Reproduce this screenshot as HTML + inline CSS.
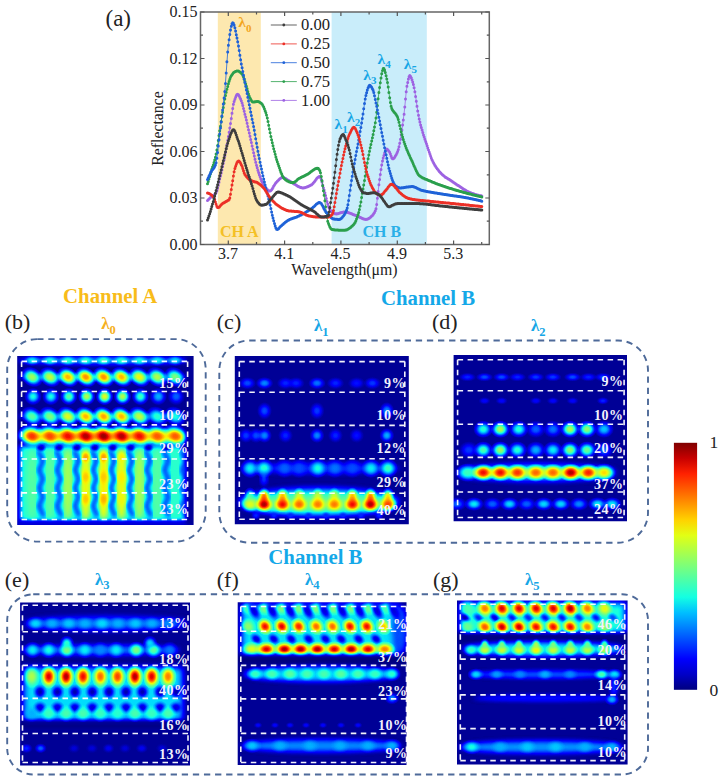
<!DOCTYPE html>
<html><head><meta charset="utf-8"><style>html,body{margin:0;padding:0;background:#fff;}
svg{display:block;}
text{font-family:"Liberation Serif",serif;}
.tk{font-size:16px;fill:#222;}
.ax{font-size:15.8px;fill:#222;}
.cb{font-size:17.5px;fill:#222;}
.laba{font-size:23px;fill:#222;}
.lab{font-size:22px;fill:#222;}
.lg{font-size:16.6px;fill:#222;}
.ch{font-size:16px;font-weight:bold;}
.lm{font-size:15.5px;font-weight:bold;}
.sub{font-size:11px;}
.chn{font-size:20.8px;font-weight:bold;}
.lm2{font-size:17px;font-weight:bold;}
.sub2{font-size:12.5px;}
.pc{font-size:14px;font-weight:bold;fill:#f2f2fc;letter-spacing:0.5px;}
</style></head><body>
<svg width="722" height="781" viewBox="0 0 722 781">
<defs><filter id="jet" filterUnits="userSpaceOnUse" x="0" y="0" width="722" height="781" color-interpolation-filters="sRGB">
<feComponentTransfer><feFuncR type="table" tableValues="0 0 0 0 0 0 0 0 0 0 0 0 0.081 0.181 0.282 0.383 0.484 0.585 0.685 0.786 0.887 0.988 1 1 1 1 1 1 1 0.926 0.784 0.642 0.5"/><feFuncG type="table" tableValues="0 0 0 0 0 0.125 0.25 0.375 0.5 0.625 0.75 0.875 1 1 1 1 1 1 1 1 1 0.94 0.824 0.708 0.593 0.477 0.361 0.245 0.13 0.014 0 0 0"/><feFuncB type="table" tableValues="0.5 0.642 0.784 0.926 1 1 1 1 1 1 1 0.988 0.887 0.786 0.685 0.585 0.484 0.383 0.282 0.181 0.081 0 0 0 0 0 0 0 0 0 0 0 0"/></feComponentTransfer></filter><filter id="bl1" x="-50%" y="-50%" width="200%" height="200%" color-interpolation-filters="sRGB"><feGaussianBlur stdDeviation="1"/></filter><filter id="bl1.5" x="-50%" y="-50%" width="200%" height="200%" color-interpolation-filters="sRGB"><feGaussianBlur stdDeviation="1.5"/></filter><filter id="bl2" x="-50%" y="-50%" width="200%" height="200%" color-interpolation-filters="sRGB"><feGaussianBlur stdDeviation="2"/></filter><filter id="bl2.5" x="-50%" y="-50%" width="200%" height="200%" color-interpolation-filters="sRGB"><feGaussianBlur stdDeviation="2.5"/></filter><filter id="bl3" x="-50%" y="-50%" width="200%" height="200%" color-interpolation-filters="sRGB"><feGaussianBlur stdDeviation="3"/></filter><filter id="bl3.5" x="-50%" y="-50%" width="200%" height="200%" color-interpolation-filters="sRGB"><feGaussianBlur stdDeviation="3.5"/></filter><filter id="bl4" x="-50%" y="-50%" width="200%" height="200%" color-interpolation-filters="sRGB"><feGaussianBlur stdDeviation="4"/></filter><filter id="bl5" x="-50%" y="-50%" width="200%" height="200%" color-interpolation-filters="sRGB"><feGaussianBlur stdDeviation="5"/></filter><radialGradient id="g2"><stop offset="0.00" stop-color="rgb(10,10,10)" stop-opacity="1.000"/><stop offset="0.15" stop-color="rgb(10,10,10)" stop-opacity="0.979"/><stop offset="0.30" stop-color="rgb(10,10,10)" stop-opacity="0.877"/><stop offset="0.45" stop-color="rgb(10,10,10)" stop-opacity="0.686"/><stop offset="0.60" stop-color="rgb(10,10,10)" stop-opacity="0.452"/><stop offset="0.75" stop-color="rgb(10,10,10)" stop-opacity="0.242"/><stop offset="0.90" stop-color="rgb(10,10,10)" stop-opacity="0.102"/><stop offset="1.00" stop-color="rgb(10,10,10)" stop-opacity="0.000"/></radialGradient><radialGradient id="g4"><stop offset="0.00" stop-color="rgb(20,20,20)" stop-opacity="1.000"/><stop offset="0.15" stop-color="rgb(20,20,20)" stop-opacity="0.979"/><stop offset="0.30" stop-color="rgb(20,20,20)" stop-opacity="0.877"/><stop offset="0.45" stop-color="rgb(20,20,20)" stop-opacity="0.686"/><stop offset="0.60" stop-color="rgb(20,20,20)" stop-opacity="0.452"/><stop offset="0.75" stop-color="rgb(20,20,20)" stop-opacity="0.242"/><stop offset="0.90" stop-color="rgb(20,20,20)" stop-opacity="0.102"/><stop offset="1.00" stop-color="rgb(20,20,20)" stop-opacity="0.000"/></radialGradient><radialGradient id="g5"><stop offset="0.00" stop-color="rgb(26,26,26)" stop-opacity="1.000"/><stop offset="0.15" stop-color="rgb(26,26,26)" stop-opacity="0.979"/><stop offset="0.30" stop-color="rgb(26,26,26)" stop-opacity="0.877"/><stop offset="0.45" stop-color="rgb(26,26,26)" stop-opacity="0.686"/><stop offset="0.60" stop-color="rgb(26,26,26)" stop-opacity="0.452"/><stop offset="0.75" stop-color="rgb(26,26,26)" stop-opacity="0.242"/><stop offset="0.90" stop-color="rgb(26,26,26)" stop-opacity="0.102"/><stop offset="1.00" stop-color="rgb(26,26,26)" stop-opacity="0.000"/></radialGradient><radialGradient id="g6"><stop offset="0.00" stop-color="rgb(31,31,31)" stop-opacity="1.000"/><stop offset="0.15" stop-color="rgb(31,31,31)" stop-opacity="0.979"/><stop offset="0.30" stop-color="rgb(31,31,31)" stop-opacity="0.877"/><stop offset="0.45" stop-color="rgb(31,31,31)" stop-opacity="0.686"/><stop offset="0.60" stop-color="rgb(31,31,31)" stop-opacity="0.452"/><stop offset="0.75" stop-color="rgb(31,31,31)" stop-opacity="0.242"/><stop offset="0.90" stop-color="rgb(31,31,31)" stop-opacity="0.102"/><stop offset="1.00" stop-color="rgb(31,31,31)" stop-opacity="0.000"/></radialGradient><radialGradient id="g7"><stop offset="0.00" stop-color="rgb(36,36,36)" stop-opacity="1.000"/><stop offset="0.15" stop-color="rgb(36,36,36)" stop-opacity="0.979"/><stop offset="0.30" stop-color="rgb(36,36,36)" stop-opacity="0.877"/><stop offset="0.45" stop-color="rgb(36,36,36)" stop-opacity="0.686"/><stop offset="0.60" stop-color="rgb(36,36,36)" stop-opacity="0.452"/><stop offset="0.75" stop-color="rgb(36,36,36)" stop-opacity="0.242"/><stop offset="0.90" stop-color="rgb(36,36,36)" stop-opacity="0.102"/><stop offset="1.00" stop-color="rgb(36,36,36)" stop-opacity="0.000"/></radialGradient><radialGradient id="g8"><stop offset="0.00" stop-color="rgb(41,41,41)" stop-opacity="1.000"/><stop offset="0.15" stop-color="rgb(41,41,41)" stop-opacity="0.979"/><stop offset="0.30" stop-color="rgb(41,41,41)" stop-opacity="0.877"/><stop offset="0.45" stop-color="rgb(41,41,41)" stop-opacity="0.686"/><stop offset="0.60" stop-color="rgb(41,41,41)" stop-opacity="0.452"/><stop offset="0.75" stop-color="rgb(41,41,41)" stop-opacity="0.242"/><stop offset="0.90" stop-color="rgb(41,41,41)" stop-opacity="0.102"/><stop offset="1.00" stop-color="rgb(41,41,41)" stop-opacity="0.000"/></radialGradient><radialGradient id="g9"><stop offset="0.00" stop-color="rgb(46,46,46)" stop-opacity="1.000"/><stop offset="0.15" stop-color="rgb(46,46,46)" stop-opacity="0.979"/><stop offset="0.30" stop-color="rgb(46,46,46)" stop-opacity="0.877"/><stop offset="0.45" stop-color="rgb(46,46,46)" stop-opacity="0.686"/><stop offset="0.60" stop-color="rgb(46,46,46)" stop-opacity="0.452"/><stop offset="0.75" stop-color="rgb(46,46,46)" stop-opacity="0.242"/><stop offset="0.90" stop-color="rgb(46,46,46)" stop-opacity="0.102"/><stop offset="1.00" stop-color="rgb(46,46,46)" stop-opacity="0.000"/></radialGradient><radialGradient id="g10"><stop offset="0.00" stop-color="rgb(51,51,51)" stop-opacity="1.000"/><stop offset="0.15" stop-color="rgb(51,51,51)" stop-opacity="0.979"/><stop offset="0.30" stop-color="rgb(51,51,51)" stop-opacity="0.877"/><stop offset="0.45" stop-color="rgb(51,51,51)" stop-opacity="0.686"/><stop offset="0.60" stop-color="rgb(51,51,51)" stop-opacity="0.452"/><stop offset="0.75" stop-color="rgb(51,51,51)" stop-opacity="0.242"/><stop offset="0.90" stop-color="rgb(51,51,51)" stop-opacity="0.102"/><stop offset="1.00" stop-color="rgb(51,51,51)" stop-opacity="0.000"/></radialGradient><radialGradient id="g11"><stop offset="0.00" stop-color="rgb(56,56,56)" stop-opacity="1.000"/><stop offset="0.15" stop-color="rgb(56,56,56)" stop-opacity="0.979"/><stop offset="0.30" stop-color="rgb(56,56,56)" stop-opacity="0.877"/><stop offset="0.45" stop-color="rgb(56,56,56)" stop-opacity="0.686"/><stop offset="0.60" stop-color="rgb(56,56,56)" stop-opacity="0.452"/><stop offset="0.75" stop-color="rgb(56,56,56)" stop-opacity="0.242"/><stop offset="0.90" stop-color="rgb(56,56,56)" stop-opacity="0.102"/><stop offset="1.00" stop-color="rgb(56,56,56)" stop-opacity="0.000"/></radialGradient><radialGradient id="g12"><stop offset="0.00" stop-color="rgb(61,61,61)" stop-opacity="1.000"/><stop offset="0.15" stop-color="rgb(61,61,61)" stop-opacity="0.979"/><stop offset="0.30" stop-color="rgb(61,61,61)" stop-opacity="0.877"/><stop offset="0.45" stop-color="rgb(61,61,61)" stop-opacity="0.686"/><stop offset="0.60" stop-color="rgb(61,61,61)" stop-opacity="0.452"/><stop offset="0.75" stop-color="rgb(61,61,61)" stop-opacity="0.242"/><stop offset="0.90" stop-color="rgb(61,61,61)" stop-opacity="0.102"/><stop offset="1.00" stop-color="rgb(61,61,61)" stop-opacity="0.000"/></radialGradient><radialGradient id="g13"><stop offset="0.00" stop-color="rgb(66,66,66)" stop-opacity="1.000"/><stop offset="0.15" stop-color="rgb(66,66,66)" stop-opacity="0.979"/><stop offset="0.30" stop-color="rgb(66,66,66)" stop-opacity="0.877"/><stop offset="0.45" stop-color="rgb(66,66,66)" stop-opacity="0.686"/><stop offset="0.60" stop-color="rgb(66,66,66)" stop-opacity="0.452"/><stop offset="0.75" stop-color="rgb(66,66,66)" stop-opacity="0.242"/><stop offset="0.90" stop-color="rgb(66,66,66)" stop-opacity="0.102"/><stop offset="1.00" stop-color="rgb(66,66,66)" stop-opacity="0.000"/></radialGradient><radialGradient id="g14"><stop offset="0.00" stop-color="rgb(71,71,71)" stop-opacity="1.000"/><stop offset="0.15" stop-color="rgb(71,71,71)" stop-opacity="0.979"/><stop offset="0.30" stop-color="rgb(71,71,71)" stop-opacity="0.877"/><stop offset="0.45" stop-color="rgb(71,71,71)" stop-opacity="0.686"/><stop offset="0.60" stop-color="rgb(71,71,71)" stop-opacity="0.452"/><stop offset="0.75" stop-color="rgb(71,71,71)" stop-opacity="0.242"/><stop offset="0.90" stop-color="rgb(71,71,71)" stop-opacity="0.102"/><stop offset="1.00" stop-color="rgb(71,71,71)" stop-opacity="0.000"/></radialGradient><radialGradient id="g15"><stop offset="0.00" stop-color="rgb(76,76,76)" stop-opacity="1.000"/><stop offset="0.15" stop-color="rgb(76,76,76)" stop-opacity="0.979"/><stop offset="0.30" stop-color="rgb(76,76,76)" stop-opacity="0.877"/><stop offset="0.45" stop-color="rgb(76,76,76)" stop-opacity="0.686"/><stop offset="0.60" stop-color="rgb(76,76,76)" stop-opacity="0.452"/><stop offset="0.75" stop-color="rgb(76,76,76)" stop-opacity="0.242"/><stop offset="0.90" stop-color="rgb(76,76,76)" stop-opacity="0.102"/><stop offset="1.00" stop-color="rgb(76,76,76)" stop-opacity="0.000"/></radialGradient><radialGradient id="g16"><stop offset="0.00" stop-color="rgb(82,82,82)" stop-opacity="1.000"/><stop offset="0.15" stop-color="rgb(82,82,82)" stop-opacity="0.979"/><stop offset="0.30" stop-color="rgb(82,82,82)" stop-opacity="0.877"/><stop offset="0.45" stop-color="rgb(82,82,82)" stop-opacity="0.686"/><stop offset="0.60" stop-color="rgb(82,82,82)" stop-opacity="0.452"/><stop offset="0.75" stop-color="rgb(82,82,82)" stop-opacity="0.242"/><stop offset="0.90" stop-color="rgb(82,82,82)" stop-opacity="0.102"/><stop offset="1.00" stop-color="rgb(82,82,82)" stop-opacity="0.000"/></radialGradient><radialGradient id="g17"><stop offset="0.00" stop-color="rgb(87,87,87)" stop-opacity="1.000"/><stop offset="0.15" stop-color="rgb(87,87,87)" stop-opacity="0.979"/><stop offset="0.30" stop-color="rgb(87,87,87)" stop-opacity="0.877"/><stop offset="0.45" stop-color="rgb(87,87,87)" stop-opacity="0.686"/><stop offset="0.60" stop-color="rgb(87,87,87)" stop-opacity="0.452"/><stop offset="0.75" stop-color="rgb(87,87,87)" stop-opacity="0.242"/><stop offset="0.90" stop-color="rgb(87,87,87)" stop-opacity="0.102"/><stop offset="1.00" stop-color="rgb(87,87,87)" stop-opacity="0.000"/></radialGradient><radialGradient id="g18"><stop offset="0.00" stop-color="rgb(92,92,92)" stop-opacity="1.000"/><stop offset="0.15" stop-color="rgb(92,92,92)" stop-opacity="0.979"/><stop offset="0.30" stop-color="rgb(92,92,92)" stop-opacity="0.877"/><stop offset="0.45" stop-color="rgb(92,92,92)" stop-opacity="0.686"/><stop offset="0.60" stop-color="rgb(92,92,92)" stop-opacity="0.452"/><stop offset="0.75" stop-color="rgb(92,92,92)" stop-opacity="0.242"/><stop offset="0.90" stop-color="rgb(92,92,92)" stop-opacity="0.102"/><stop offset="1.00" stop-color="rgb(92,92,92)" stop-opacity="0.000"/></radialGradient><radialGradient id="g19"><stop offset="0.00" stop-color="rgb(97,97,97)" stop-opacity="1.000"/><stop offset="0.15" stop-color="rgb(97,97,97)" stop-opacity="0.979"/><stop offset="0.30" stop-color="rgb(97,97,97)" stop-opacity="0.877"/><stop offset="0.45" stop-color="rgb(97,97,97)" stop-opacity="0.686"/><stop offset="0.60" stop-color="rgb(97,97,97)" stop-opacity="0.452"/><stop offset="0.75" stop-color="rgb(97,97,97)" stop-opacity="0.242"/><stop offset="0.90" stop-color="rgb(97,97,97)" stop-opacity="0.102"/><stop offset="1.00" stop-color="rgb(97,97,97)" stop-opacity="0.000"/></radialGradient><radialGradient id="g20"><stop offset="0.00" stop-color="rgb(102,102,102)" stop-opacity="1.000"/><stop offset="0.15" stop-color="rgb(102,102,102)" stop-opacity="0.979"/><stop offset="0.30" stop-color="rgb(102,102,102)" stop-opacity="0.877"/><stop offset="0.45" stop-color="rgb(102,102,102)" stop-opacity="0.686"/><stop offset="0.60" stop-color="rgb(102,102,102)" stop-opacity="0.452"/><stop offset="0.75" stop-color="rgb(102,102,102)" stop-opacity="0.242"/><stop offset="0.90" stop-color="rgb(102,102,102)" stop-opacity="0.102"/><stop offset="1.00" stop-color="rgb(102,102,102)" stop-opacity="0.000"/></radialGradient><radialGradient id="g21"><stop offset="0.00" stop-color="rgb(107,107,107)" stop-opacity="1.000"/><stop offset="0.15" stop-color="rgb(107,107,107)" stop-opacity="0.979"/><stop offset="0.30" stop-color="rgb(107,107,107)" stop-opacity="0.877"/><stop offset="0.45" stop-color="rgb(107,107,107)" stop-opacity="0.686"/><stop offset="0.60" stop-color="rgb(107,107,107)" stop-opacity="0.452"/><stop offset="0.75" stop-color="rgb(107,107,107)" stop-opacity="0.242"/><stop offset="0.90" stop-color="rgb(107,107,107)" stop-opacity="0.102"/><stop offset="1.00" stop-color="rgb(107,107,107)" stop-opacity="0.000"/></radialGradient><radialGradient id="g22"><stop offset="0.00" stop-color="rgb(112,112,112)" stop-opacity="1.000"/><stop offset="0.15" stop-color="rgb(112,112,112)" stop-opacity="0.979"/><stop offset="0.30" stop-color="rgb(112,112,112)" stop-opacity="0.877"/><stop offset="0.45" stop-color="rgb(112,112,112)" stop-opacity="0.686"/><stop offset="0.60" stop-color="rgb(112,112,112)" stop-opacity="0.452"/><stop offset="0.75" stop-color="rgb(112,112,112)" stop-opacity="0.242"/><stop offset="0.90" stop-color="rgb(112,112,112)" stop-opacity="0.102"/><stop offset="1.00" stop-color="rgb(112,112,112)" stop-opacity="0.000"/></radialGradient><radialGradient id="g23"><stop offset="0.00" stop-color="rgb(117,117,117)" stop-opacity="1.000"/><stop offset="0.15" stop-color="rgb(117,117,117)" stop-opacity="0.979"/><stop offset="0.30" stop-color="rgb(117,117,117)" stop-opacity="0.877"/><stop offset="0.45" stop-color="rgb(117,117,117)" stop-opacity="0.686"/><stop offset="0.60" stop-color="rgb(117,117,117)" stop-opacity="0.452"/><stop offset="0.75" stop-color="rgb(117,117,117)" stop-opacity="0.242"/><stop offset="0.90" stop-color="rgb(117,117,117)" stop-opacity="0.102"/><stop offset="1.00" stop-color="rgb(117,117,117)" stop-opacity="0.000"/></radialGradient><radialGradient id="g24"><stop offset="0.00" stop-color="rgb(122,122,122)" stop-opacity="1.000"/><stop offset="0.15" stop-color="rgb(122,122,122)" stop-opacity="0.979"/><stop offset="0.30" stop-color="rgb(122,122,122)" stop-opacity="0.877"/><stop offset="0.45" stop-color="rgb(122,122,122)" stop-opacity="0.686"/><stop offset="0.60" stop-color="rgb(122,122,122)" stop-opacity="0.452"/><stop offset="0.75" stop-color="rgb(122,122,122)" stop-opacity="0.242"/><stop offset="0.90" stop-color="rgb(122,122,122)" stop-opacity="0.102"/><stop offset="1.00" stop-color="rgb(122,122,122)" stop-opacity="0.000"/></radialGradient><radialGradient id="g25"><stop offset="0.00" stop-color="rgb(128,128,128)" stop-opacity="1.000"/><stop offset="0.15" stop-color="rgb(128,128,128)" stop-opacity="0.979"/><stop offset="0.30" stop-color="rgb(128,128,128)" stop-opacity="0.877"/><stop offset="0.45" stop-color="rgb(128,128,128)" stop-opacity="0.686"/><stop offset="0.60" stop-color="rgb(128,128,128)" stop-opacity="0.452"/><stop offset="0.75" stop-color="rgb(128,128,128)" stop-opacity="0.242"/><stop offset="0.90" stop-color="rgb(128,128,128)" stop-opacity="0.102"/><stop offset="1.00" stop-color="rgb(128,128,128)" stop-opacity="0.000"/></radialGradient><radialGradient id="g26"><stop offset="0.00" stop-color="rgb(133,133,133)" stop-opacity="1.000"/><stop offset="0.15" stop-color="rgb(133,133,133)" stop-opacity="0.979"/><stop offset="0.30" stop-color="rgb(133,133,133)" stop-opacity="0.877"/><stop offset="0.45" stop-color="rgb(133,133,133)" stop-opacity="0.686"/><stop offset="0.60" stop-color="rgb(133,133,133)" stop-opacity="0.452"/><stop offset="0.75" stop-color="rgb(133,133,133)" stop-opacity="0.242"/><stop offset="0.90" stop-color="rgb(133,133,133)" stop-opacity="0.102"/><stop offset="1.00" stop-color="rgb(133,133,133)" stop-opacity="0.000"/></radialGradient><radialGradient id="g27"><stop offset="0.00" stop-color="rgb(138,138,138)" stop-opacity="1.000"/><stop offset="0.15" stop-color="rgb(138,138,138)" stop-opacity="0.979"/><stop offset="0.30" stop-color="rgb(138,138,138)" stop-opacity="0.877"/><stop offset="0.45" stop-color="rgb(138,138,138)" stop-opacity="0.686"/><stop offset="0.60" stop-color="rgb(138,138,138)" stop-opacity="0.452"/><stop offset="0.75" stop-color="rgb(138,138,138)" stop-opacity="0.242"/><stop offset="0.90" stop-color="rgb(138,138,138)" stop-opacity="0.102"/><stop offset="1.00" stop-color="rgb(138,138,138)" stop-opacity="0.000"/></radialGradient><radialGradient id="g28"><stop offset="0.00" stop-color="rgb(143,143,143)" stop-opacity="1.000"/><stop offset="0.15" stop-color="rgb(143,143,143)" stop-opacity="0.979"/><stop offset="0.30" stop-color="rgb(143,143,143)" stop-opacity="0.877"/><stop offset="0.45" stop-color="rgb(143,143,143)" stop-opacity="0.686"/><stop offset="0.60" stop-color="rgb(143,143,143)" stop-opacity="0.452"/><stop offset="0.75" stop-color="rgb(143,143,143)" stop-opacity="0.242"/><stop offset="0.90" stop-color="rgb(143,143,143)" stop-opacity="0.102"/><stop offset="1.00" stop-color="rgb(143,143,143)" stop-opacity="0.000"/></radialGradient><radialGradient id="g29"><stop offset="0.00" stop-color="rgb(148,148,148)" stop-opacity="1.000"/><stop offset="0.15" stop-color="rgb(148,148,148)" stop-opacity="0.979"/><stop offset="0.30" stop-color="rgb(148,148,148)" stop-opacity="0.877"/><stop offset="0.45" stop-color="rgb(148,148,148)" stop-opacity="0.686"/><stop offset="0.60" stop-color="rgb(148,148,148)" stop-opacity="0.452"/><stop offset="0.75" stop-color="rgb(148,148,148)" stop-opacity="0.242"/><stop offset="0.90" stop-color="rgb(148,148,148)" stop-opacity="0.102"/><stop offset="1.00" stop-color="rgb(148,148,148)" stop-opacity="0.000"/></radialGradient><radialGradient id="g30"><stop offset="0.00" stop-color="rgb(153,153,153)" stop-opacity="1.000"/><stop offset="0.15" stop-color="rgb(153,153,153)" stop-opacity="0.979"/><stop offset="0.30" stop-color="rgb(153,153,153)" stop-opacity="0.877"/><stop offset="0.45" stop-color="rgb(153,153,153)" stop-opacity="0.686"/><stop offset="0.60" stop-color="rgb(153,153,153)" stop-opacity="0.452"/><stop offset="0.75" stop-color="rgb(153,153,153)" stop-opacity="0.242"/><stop offset="0.90" stop-color="rgb(153,153,153)" stop-opacity="0.102"/><stop offset="1.00" stop-color="rgb(153,153,153)" stop-opacity="0.000"/></radialGradient><radialGradient id="g31"><stop offset="0.00" stop-color="rgb(158,158,158)" stop-opacity="1.000"/><stop offset="0.15" stop-color="rgb(158,158,158)" stop-opacity="0.979"/><stop offset="0.30" stop-color="rgb(158,158,158)" stop-opacity="0.877"/><stop offset="0.45" stop-color="rgb(158,158,158)" stop-opacity="0.686"/><stop offset="0.60" stop-color="rgb(158,158,158)" stop-opacity="0.452"/><stop offset="0.75" stop-color="rgb(158,158,158)" stop-opacity="0.242"/><stop offset="0.90" stop-color="rgb(158,158,158)" stop-opacity="0.102"/><stop offset="1.00" stop-color="rgb(158,158,158)" stop-opacity="0.000"/></radialGradient><radialGradient id="g32"><stop offset="0.00" stop-color="rgb(163,163,163)" stop-opacity="1.000"/><stop offset="0.15" stop-color="rgb(163,163,163)" stop-opacity="0.979"/><stop offset="0.30" stop-color="rgb(163,163,163)" stop-opacity="0.877"/><stop offset="0.45" stop-color="rgb(163,163,163)" stop-opacity="0.686"/><stop offset="0.60" stop-color="rgb(163,163,163)" stop-opacity="0.452"/><stop offset="0.75" stop-color="rgb(163,163,163)" stop-opacity="0.242"/><stop offset="0.90" stop-color="rgb(163,163,163)" stop-opacity="0.102"/><stop offset="1.00" stop-color="rgb(163,163,163)" stop-opacity="0.000"/></radialGradient><radialGradient id="g33"><stop offset="0.00" stop-color="rgb(168,168,168)" stop-opacity="1.000"/><stop offset="0.15" stop-color="rgb(168,168,168)" stop-opacity="0.979"/><stop offset="0.30" stop-color="rgb(168,168,168)" stop-opacity="0.877"/><stop offset="0.45" stop-color="rgb(168,168,168)" stop-opacity="0.686"/><stop offset="0.60" stop-color="rgb(168,168,168)" stop-opacity="0.452"/><stop offset="0.75" stop-color="rgb(168,168,168)" stop-opacity="0.242"/><stop offset="0.90" stop-color="rgb(168,168,168)" stop-opacity="0.102"/><stop offset="1.00" stop-color="rgb(168,168,168)" stop-opacity="0.000"/></radialGradient><radialGradient id="g34"><stop offset="0.00" stop-color="rgb(173,173,173)" stop-opacity="1.000"/><stop offset="0.15" stop-color="rgb(173,173,173)" stop-opacity="0.979"/><stop offset="0.30" stop-color="rgb(173,173,173)" stop-opacity="0.877"/><stop offset="0.45" stop-color="rgb(173,173,173)" stop-opacity="0.686"/><stop offset="0.60" stop-color="rgb(173,173,173)" stop-opacity="0.452"/><stop offset="0.75" stop-color="rgb(173,173,173)" stop-opacity="0.242"/><stop offset="0.90" stop-color="rgb(173,173,173)" stop-opacity="0.102"/><stop offset="1.00" stop-color="rgb(173,173,173)" stop-opacity="0.000"/></radialGradient><radialGradient id="g35"><stop offset="0.00" stop-color="rgb(178,178,178)" stop-opacity="1.000"/><stop offset="0.15" stop-color="rgb(178,178,178)" stop-opacity="0.979"/><stop offset="0.30" stop-color="rgb(178,178,178)" stop-opacity="0.877"/><stop offset="0.45" stop-color="rgb(178,178,178)" stop-opacity="0.686"/><stop offset="0.60" stop-color="rgb(178,178,178)" stop-opacity="0.452"/><stop offset="0.75" stop-color="rgb(178,178,178)" stop-opacity="0.242"/><stop offset="0.90" stop-color="rgb(178,178,178)" stop-opacity="0.102"/><stop offset="1.00" stop-color="rgb(178,178,178)" stop-opacity="0.000"/></radialGradient><radialGradient id="g36"><stop offset="0.00" stop-color="rgb(184,184,184)" stop-opacity="1.000"/><stop offset="0.15" stop-color="rgb(184,184,184)" stop-opacity="0.979"/><stop offset="0.30" stop-color="rgb(184,184,184)" stop-opacity="0.877"/><stop offset="0.45" stop-color="rgb(184,184,184)" stop-opacity="0.686"/><stop offset="0.60" stop-color="rgb(184,184,184)" stop-opacity="0.452"/><stop offset="0.75" stop-color="rgb(184,184,184)" stop-opacity="0.242"/><stop offset="0.90" stop-color="rgb(184,184,184)" stop-opacity="0.102"/><stop offset="1.00" stop-color="rgb(184,184,184)" stop-opacity="0.000"/></radialGradient><radialGradient id="g37"><stop offset="0.00" stop-color="rgb(189,189,189)" stop-opacity="1.000"/><stop offset="0.15" stop-color="rgb(189,189,189)" stop-opacity="0.979"/><stop offset="0.30" stop-color="rgb(189,189,189)" stop-opacity="0.877"/><stop offset="0.45" stop-color="rgb(189,189,189)" stop-opacity="0.686"/><stop offset="0.60" stop-color="rgb(189,189,189)" stop-opacity="0.452"/><stop offset="0.75" stop-color="rgb(189,189,189)" stop-opacity="0.242"/><stop offset="0.90" stop-color="rgb(189,189,189)" stop-opacity="0.102"/><stop offset="1.00" stop-color="rgb(189,189,189)" stop-opacity="0.000"/></radialGradient><radialGradient id="g38"><stop offset="0.00" stop-color="rgb(194,194,194)" stop-opacity="1.000"/><stop offset="0.15" stop-color="rgb(194,194,194)" stop-opacity="0.979"/><stop offset="0.30" stop-color="rgb(194,194,194)" stop-opacity="0.877"/><stop offset="0.45" stop-color="rgb(194,194,194)" stop-opacity="0.686"/><stop offset="0.60" stop-color="rgb(194,194,194)" stop-opacity="0.452"/><stop offset="0.75" stop-color="rgb(194,194,194)" stop-opacity="0.242"/><stop offset="0.90" stop-color="rgb(194,194,194)" stop-opacity="0.102"/><stop offset="1.00" stop-color="rgb(194,194,194)" stop-opacity="0.000"/></radialGradient><radialGradient id="g39"><stop offset="0.00" stop-color="rgb(199,199,199)" stop-opacity="1.000"/><stop offset="0.15" stop-color="rgb(199,199,199)" stop-opacity="0.979"/><stop offset="0.30" stop-color="rgb(199,199,199)" stop-opacity="0.877"/><stop offset="0.45" stop-color="rgb(199,199,199)" stop-opacity="0.686"/><stop offset="0.60" stop-color="rgb(199,199,199)" stop-opacity="0.452"/><stop offset="0.75" stop-color="rgb(199,199,199)" stop-opacity="0.242"/><stop offset="0.90" stop-color="rgb(199,199,199)" stop-opacity="0.102"/><stop offset="1.00" stop-color="rgb(199,199,199)" stop-opacity="0.000"/></radialGradient><radialGradient id="g40"><stop offset="0.00" stop-color="rgb(204,204,204)" stop-opacity="1.000"/><stop offset="0.15" stop-color="rgb(204,204,204)" stop-opacity="0.979"/><stop offset="0.30" stop-color="rgb(204,204,204)" stop-opacity="0.877"/><stop offset="0.45" stop-color="rgb(204,204,204)" stop-opacity="0.686"/><stop offset="0.60" stop-color="rgb(204,204,204)" stop-opacity="0.452"/><stop offset="0.75" stop-color="rgb(204,204,204)" stop-opacity="0.242"/><stop offset="0.90" stop-color="rgb(204,204,204)" stop-opacity="0.102"/><stop offset="1.00" stop-color="rgb(204,204,204)" stop-opacity="0.000"/></radialGradient><radialGradient id="g41"><stop offset="0.00" stop-color="rgb(209,209,209)" stop-opacity="1.000"/><stop offset="0.15" stop-color="rgb(209,209,209)" stop-opacity="0.979"/><stop offset="0.30" stop-color="rgb(209,209,209)" stop-opacity="0.877"/><stop offset="0.45" stop-color="rgb(209,209,209)" stop-opacity="0.686"/><stop offset="0.60" stop-color="rgb(209,209,209)" stop-opacity="0.452"/><stop offset="0.75" stop-color="rgb(209,209,209)" stop-opacity="0.242"/><stop offset="0.90" stop-color="rgb(209,209,209)" stop-opacity="0.102"/><stop offset="1.00" stop-color="rgb(209,209,209)" stop-opacity="0.000"/></radialGradient><radialGradient id="g42"><stop offset="0.00" stop-color="rgb(214,214,214)" stop-opacity="1.000"/><stop offset="0.15" stop-color="rgb(214,214,214)" stop-opacity="0.979"/><stop offset="0.30" stop-color="rgb(214,214,214)" stop-opacity="0.877"/><stop offset="0.45" stop-color="rgb(214,214,214)" stop-opacity="0.686"/><stop offset="0.60" stop-color="rgb(214,214,214)" stop-opacity="0.452"/><stop offset="0.75" stop-color="rgb(214,214,214)" stop-opacity="0.242"/><stop offset="0.90" stop-color="rgb(214,214,214)" stop-opacity="0.102"/><stop offset="1.00" stop-color="rgb(214,214,214)" stop-opacity="0.000"/></radialGradient><radialGradient id="g43"><stop offset="0.00" stop-color="rgb(219,219,219)" stop-opacity="1.000"/><stop offset="0.15" stop-color="rgb(219,219,219)" stop-opacity="0.979"/><stop offset="0.30" stop-color="rgb(219,219,219)" stop-opacity="0.877"/><stop offset="0.45" stop-color="rgb(219,219,219)" stop-opacity="0.686"/><stop offset="0.60" stop-color="rgb(219,219,219)" stop-opacity="0.452"/><stop offset="0.75" stop-color="rgb(219,219,219)" stop-opacity="0.242"/><stop offset="0.90" stop-color="rgb(219,219,219)" stop-opacity="0.102"/><stop offset="1.00" stop-color="rgb(219,219,219)" stop-opacity="0.000"/></radialGradient><radialGradient id="g44"><stop offset="0.00" stop-color="rgb(224,224,224)" stop-opacity="1.000"/><stop offset="0.15" stop-color="rgb(224,224,224)" stop-opacity="0.979"/><stop offset="0.30" stop-color="rgb(224,224,224)" stop-opacity="0.877"/><stop offset="0.45" stop-color="rgb(224,224,224)" stop-opacity="0.686"/><stop offset="0.60" stop-color="rgb(224,224,224)" stop-opacity="0.452"/><stop offset="0.75" stop-color="rgb(224,224,224)" stop-opacity="0.242"/><stop offset="0.90" stop-color="rgb(224,224,224)" stop-opacity="0.102"/><stop offset="1.00" stop-color="rgb(224,224,224)" stop-opacity="0.000"/></radialGradient><radialGradient id="g45"><stop offset="0.00" stop-color="rgb(230,230,230)" stop-opacity="1.000"/><stop offset="0.15" stop-color="rgb(230,230,230)" stop-opacity="0.979"/><stop offset="0.30" stop-color="rgb(230,230,230)" stop-opacity="0.877"/><stop offset="0.45" stop-color="rgb(230,230,230)" stop-opacity="0.686"/><stop offset="0.60" stop-color="rgb(230,230,230)" stop-opacity="0.452"/><stop offset="0.75" stop-color="rgb(230,230,230)" stop-opacity="0.242"/><stop offset="0.90" stop-color="rgb(230,230,230)" stop-opacity="0.102"/><stop offset="1.00" stop-color="rgb(230,230,230)" stop-opacity="0.000"/></radialGradient><radialGradient id="g46"><stop offset="0.00" stop-color="rgb(235,235,235)" stop-opacity="1.000"/><stop offset="0.15" stop-color="rgb(235,235,235)" stop-opacity="0.979"/><stop offset="0.30" stop-color="rgb(235,235,235)" stop-opacity="0.877"/><stop offset="0.45" stop-color="rgb(235,235,235)" stop-opacity="0.686"/><stop offset="0.60" stop-color="rgb(235,235,235)" stop-opacity="0.452"/><stop offset="0.75" stop-color="rgb(235,235,235)" stop-opacity="0.242"/><stop offset="0.90" stop-color="rgb(235,235,235)" stop-opacity="0.102"/><stop offset="1.00" stop-color="rgb(235,235,235)" stop-opacity="0.000"/></radialGradient><radialGradient id="g47"><stop offset="0.00" stop-color="rgb(240,240,240)" stop-opacity="1.000"/><stop offset="0.15" stop-color="rgb(240,240,240)" stop-opacity="0.979"/><stop offset="0.30" stop-color="rgb(240,240,240)" stop-opacity="0.877"/><stop offset="0.45" stop-color="rgb(240,240,240)" stop-opacity="0.686"/><stop offset="0.60" stop-color="rgb(240,240,240)" stop-opacity="0.452"/><stop offset="0.75" stop-color="rgb(240,240,240)" stop-opacity="0.242"/><stop offset="0.90" stop-color="rgb(240,240,240)" stop-opacity="0.102"/><stop offset="1.00" stop-color="rgb(240,240,240)" stop-opacity="0.000"/></radialGradient><radialGradient id="g48"><stop offset="0.00" stop-color="rgb(245,245,245)" stop-opacity="1.000"/><stop offset="0.15" stop-color="rgb(245,245,245)" stop-opacity="0.979"/><stop offset="0.30" stop-color="rgb(245,245,245)" stop-opacity="0.877"/><stop offset="0.45" stop-color="rgb(245,245,245)" stop-opacity="0.686"/><stop offset="0.60" stop-color="rgb(245,245,245)" stop-opacity="0.452"/><stop offset="0.75" stop-color="rgb(245,245,245)" stop-opacity="0.242"/><stop offset="0.90" stop-color="rgb(245,245,245)" stop-opacity="0.102"/><stop offset="1.00" stop-color="rgb(245,245,245)" stop-opacity="0.000"/></radialGradient><radialGradient id="g49"><stop offset="0.00" stop-color="rgb(250,250,250)" stop-opacity="1.000"/><stop offset="0.15" stop-color="rgb(250,250,250)" stop-opacity="0.979"/><stop offset="0.30" stop-color="rgb(250,250,250)" stop-opacity="0.877"/><stop offset="0.45" stop-color="rgb(250,250,250)" stop-opacity="0.686"/><stop offset="0.60" stop-color="rgb(250,250,250)" stop-opacity="0.452"/><stop offset="0.75" stop-color="rgb(250,250,250)" stop-opacity="0.242"/><stop offset="0.90" stop-color="rgb(250,250,250)" stop-opacity="0.102"/><stop offset="1.00" stop-color="rgb(250,250,250)" stop-opacity="0.000"/></radialGradient></defs>
<rect width="722" height="781" fill="#fff"/>
<rect x="217.8" y="12" width="43" height="232.5" fill="#fde8af"/>
<rect x="331.6" y="12" width="95.2" height="232.5" fill="#c9edfa"/>
<path d="M207.5 200.4 L208.9 198.9 L210.4 197.6 L211.8 196.4 L213.3 195.4 L214.7 194.3 L216.1 192.5 L217.6 188.2 L219.0 182.2 L220.5 176.1 L221.9 169.9 L223.3 163.2 L224.8 156.1 L226.2 148.6 L227.7 140.6 L229.1 132.3 L230.5 123.6 L232.0 113.3 L233.4 104.3 L234.9 99.3 L236.3 95.6 L237.7 94.3 L239.2 96.0 L240.6 99.1 L242.1 103.0 L243.5 108.4 L244.9 114.2 L246.4 120.1 L247.8 126.4 L249.3 133.0 L250.7 139.4 L252.1 145.9 L253.6 152.7 L255.0 159.3 L256.5 165.2 L257.9 170.2 L259.3 174.7 L260.8 178.8 L262.2 182.3 L263.7 184.9 L265.1 187.0 L266.5 188.8 L268.0 190.3 L269.4 191.0 L270.9 190.5 L272.3 188.7 L273.7 186.1 L275.2 183.7 L276.6 182.0 L278.1 180.4 L279.5 179.0 L280.9 177.9 L282.4 177.5 L283.8 177.8 L285.3 178.4 L286.7 179.2 L288.1 180.2 L289.6 181.1 L291.0 181.9 L292.5 182.8 L293.9 183.7 L295.3 184.6 L296.8 185.6 L298.2 186.4 L299.7 187.1 L301.1 187.6 L302.5 187.9 L304.0 187.8 L305.4 187.5 L306.9 187.1 L308.3 186.4 L309.7 185.7 L311.2 184.9 L312.6 183.8 L314.1 182.1 L315.5 180.2 L316.9 178.3 L318.4 177.0 L319.8 176.5 L321.3 179.4 L322.7 184.9 L324.1 190.1 L325.6 195.6 L327.0 201.4 L328.5 206.4 L329.9 209.6 L331.3 211.1 L332.8 212.4 L334.2 213.3 L335.7 213.8 L337.1 213.8 L338.5 213.5 L340.0 213.1 L341.4 212.6 L342.9 212.2 L344.3 212.1 L345.7 212.2 L347.2 212.5 L348.6 212.8 L350.1 213.3 L351.5 213.8 L352.9 214.4 L354.4 215.0 L355.8 215.5 L357.3 216.0 L358.7 216.7 L360.1 217.4 L361.6 218.1 L363.0 218.8 L364.5 219.2 L365.9 219.4 L367.3 219.2 L368.8 218.4 L370.2 217.4 L371.7 216.1 L373.1 214.6 L374.5 212.4 L376.0 208.7 L377.4 198.3 L378.9 184.8 L380.3 174.4 L381.7 164.9 L383.2 158.1 L384.6 153.0 L386.1 149.5 L387.5 149.4 L388.9 151.2 L390.4 153.9 L391.8 157.8 L393.3 158.7 L394.7 157.3 L396.1 154.7 L397.6 151.5 L399.0 146.7 L400.5 139.2 L401.9 130.0 L403.3 119.9 L404.8 106.9 L406.2 91.8 L407.7 82.4 L409.1 76.4 L410.5 76.3 L412.0 79.8 L413.4 84.5 L414.9 91.8 L416.3 101.2 L417.7 110.9 L419.2 119.0 L420.6 124.9 L422.1 130.1 L423.5 134.9 L424.9 139.3 L426.4 143.5 L427.8 147.9 L429.3 152.2 L430.7 156.3 L432.1 160.0 L433.6 163.0 L435.0 165.5 L436.5 167.7 L437.9 169.6 L439.3 171.4 L440.8 173.0 L442.2 174.5 L443.7 175.8 L445.1 176.9 L446.5 177.8 L448.0 178.7 L449.4 179.6 L450.9 180.6 L452.3 181.6 L453.7 182.5 L455.2 183.5 L456.6 184.4 L458.1 185.4 L459.5 186.3 L460.9 187.3 L462.4 188.2 L463.8 189.2 L465.3 190.1 L466.7 191.0 L468.1 191.7 L469.6 192.4 L471.0 193.0 L472.5 193.5 L473.9 194.0 L475.3 194.4 L476.8 194.9 L478.2 195.2 L479.7 195.5 L481.1 195.8" fill="none" stroke="#9d62e2" stroke-width="0.8"/>
<path d="M207.5 200.4h0M208.2 199.7h0M208.9 198.9h0M209.7 198.2h0M210.4 197.6h0M211.1 196.9h0M211.8 196.4h0M212.5 195.9h0M213.3 195.4h0M214.0 194.9h0M214.7 194.3h0M215.4 193.6h0M216.1 192.5h0M216.9 190.7h0M217.6 188.2h0M218.3 185.3h0M219.0 182.2h0M219.7 179.1h0M220.5 176.1h0M221.2 173.1h0M221.9 169.9h0M222.6 166.6h0M223.3 163.2h0M224.1 159.7h0M224.8 156.1h0M225.5 152.4h0M226.2 148.6h0M226.9 144.7h0M227.7 140.6h0M228.4 136.5h0M229.1 132.3h0M229.8 128.1h0M230.5 123.6h0M231.3 118.5h0M232.0 113.3h0M232.7 108.4h0M233.4 104.3h0M234.1 101.6h0M234.9 99.3h0M235.6 97.3h0M236.3 95.6h0M237.0 94.6h0M237.7 94.3h0M238.5 94.8h0M239.2 96.0h0M239.9 97.5h0M240.6 99.1h0M241.3 100.8h0M242.1 103.0h0M242.8 105.5h0M243.5 108.4h0M244.2 111.3h0M244.9 114.2h0M245.7 117.1h0M246.4 120.1h0M247.1 123.2h0M247.8 126.4h0M248.5 129.7h0M249.3 133.0h0M250.0 136.2h0M250.7 139.4h0M251.4 142.6h0M252.1 145.9h0M252.9 149.3h0M253.6 152.7h0M254.3 156.0h0M255.0 159.3h0M255.7 162.3h0M256.5 165.2h0M257.2 167.8h0M257.9 170.2h0M258.6 172.5h0M259.3 174.7h0M260.1 176.8h0M260.8 178.8h0M261.5 180.7h0M262.2 182.3h0M262.9 183.7h0M263.7 184.9h0M264.4 185.9h0M265.1 187.0h0M265.8 187.9h0M266.5 188.8h0M267.3 189.6h0M268.0 190.3h0M268.7 190.7h0M269.4 191.0h0M270.1 190.9h0M270.9 190.5h0M271.6 189.7h0M272.3 188.7h0M273.0 187.4h0M273.7 186.1h0M274.5 184.9h0M275.2 183.7h0M275.9 182.8h0M276.6 182.0h0M277.3 181.2h0M278.1 180.4h0M278.8 179.7h0M279.5 179.0h0M280.2 178.4h0M280.9 177.9h0M281.7 177.6h0M282.4 177.5h0M283.1 177.6h0M283.8 177.8h0M284.5 178.0h0M285.3 178.4h0M286.0 178.8h0M286.7 179.2h0M287.4 179.7h0M288.1 180.2h0M288.9 180.7h0M289.6 181.1h0M290.3 181.5h0M291.0 181.9h0M291.7 182.3h0M292.5 182.8h0M293.2 183.2h0M293.9 183.7h0M294.6 184.2h0M295.3 184.6h0M296.1 185.1h0M296.8 185.6h0M297.5 186.0h0M298.2 186.4h0M298.9 186.8h0M299.7 187.1h0M300.4 187.4h0M301.1 187.6h0M301.8 187.8h0M302.5 187.9h0M303.3 187.9h0M304.0 187.8h0M304.7 187.7h0M305.4 187.5h0M306.1 187.3h0M306.9 187.1h0M307.6 186.8h0M308.3 186.4h0M309.0 186.1h0M309.7 185.7h0M310.5 185.3h0M311.2 184.9h0M311.9 184.5h0M312.6 183.8h0M313.3 183.0h0M314.1 182.1h0M314.8 181.2h0M315.5 180.2h0M316.2 179.2h0M316.9 178.3h0M317.7 177.6h0M318.4 177.0h0M319.1 176.6h0M319.8 176.5h0M320.5 177.4h0M321.3 179.4h0M322.0 182.0h0M322.7 184.9h0M323.4 187.7h0M324.1 190.1h0M324.9 192.8h0M325.6 195.6h0M326.3 198.5h0M327.0 201.4h0M327.7 204.1h0M328.5 206.4h0M329.2 208.3h0M329.9 209.6h0M330.6 210.4h0M331.3 211.1h0M332.1 211.8h0M332.8 212.4h0M333.5 212.9h0M334.2 213.3h0M334.9 213.7h0M335.7 213.8h0M336.4 213.9h0M337.1 213.8h0M337.8 213.7h0M338.5 213.5h0M339.3 213.3h0M340.0 213.1h0M340.7 212.8h0M341.4 212.6h0M342.1 212.4h0M342.9 212.2h0M343.6 212.1h0M344.3 212.1h0M345.0 212.1h0M345.7 212.2h0M346.5 212.3h0M347.2 212.5h0M347.9 212.6h0M348.6 212.8h0M349.3 213.1h0M350.1 213.3h0M350.8 213.6h0M351.5 213.8h0M352.2 214.1h0M352.9 214.4h0M353.7 214.7h0M354.4 215.0h0M355.1 215.2h0M355.8 215.5h0M356.5 215.7h0M357.3 216.0h0M358.0 216.3h0M358.7 216.7h0M359.4 217.0h0M360.1 217.4h0M360.9 217.8h0M361.6 218.1h0M362.3 218.5h0M363.0 218.8h0M363.7 219.0h0M364.5 219.2h0M365.2 219.3h0M365.9 219.4h0M366.6 219.3h0M367.3 219.2h0M368.1 218.8h0M368.8 218.4h0M369.5 217.9h0M370.2 217.4h0M370.9 216.8h0M371.7 216.1h0M372.4 215.4h0M373.1 214.6h0M373.8 213.6h0M374.5 212.4h0M375.3 210.8h0M376.0 208.7h0M376.7 204.4h0M377.4 198.3h0M378.1 191.4h0M378.9 184.8h0M379.6 179.4h0M380.3 174.4h0M381.0 169.4h0M381.7 164.9h0M382.5 161.1h0M383.2 158.1h0M383.9 155.5h0M384.6 153.0h0M385.3 150.9h0M386.1 149.5h0M386.8 149.1h0M387.5 149.4h0M388.2 150.2h0M388.9 151.2h0M389.7 152.2h0M390.4 153.9h0M391.1 156.0h0M391.8 157.8h0M392.5 158.8h0M393.3 158.7h0M394.0 158.1h0M394.7 157.3h0M395.4 156.1h0M396.1 154.7h0M396.9 153.2h0M397.6 151.5h0M398.3 149.5h0M399.0 146.7h0M399.7 143.2h0M400.5 139.2h0M401.2 134.8h0M401.9 130.0h0M402.6 125.0h0M403.3 119.9h0M404.1 114.2h0M404.8 106.9h0M405.5 99.1h0M406.2 91.8h0M406.9 86.3h0M407.7 82.4h0M408.4 78.9h0M409.1 76.4h0M409.8 75.6h0M410.5 76.3h0M411.3 77.8h0M412.0 79.8h0M412.7 82.1h0M413.4 84.5h0M414.1 87.8h0M414.9 91.8h0M415.6 96.4h0M416.3 101.2h0M417.0 106.2h0M417.7 110.9h0M418.5 115.3h0M419.2 119.0h0M419.9 122.1h0M420.6 124.9h0M421.3 127.6h0M422.1 130.1h0M422.8 132.6h0M423.5 134.9h0M424.2 137.1h0M424.9 139.3h0M425.7 141.4h0M426.4 143.5h0M427.1 145.7h0M427.8 147.9h0M428.5 150.0h0M429.3 152.2h0M430.0 154.3h0M430.7 156.3h0M431.4 158.2h0M432.1 160.0h0M432.9 161.6h0M433.6 163.0h0M434.3 164.3h0M435.0 165.5h0M435.7 166.6h0M436.5 167.7h0M437.2 168.7h0M437.9 169.6h0M438.6 170.5h0M439.3 171.4h0M440.1 172.2h0M440.8 173.0h0M441.5 173.8h0M442.2 174.5h0M442.9 175.1h0M443.7 175.8h0M444.4 176.3h0M445.1 176.9h0M445.8 177.4h0M446.5 177.8h0M447.3 178.3h0M448.0 178.7h0M448.7 179.2h0M449.4 179.6h0M450.1 180.1h0M450.9 180.6h0M451.6 181.1h0M452.3 181.6h0M453.0 182.0h0M453.7 182.5h0M454.5 183.0h0M455.2 183.5h0M455.9 184.0h0M456.6 184.4h0M457.3 184.9h0M458.1 185.4h0M458.8 185.8h0M459.5 186.3h0M460.2 186.8h0M460.9 187.3h0M461.7 187.8h0M462.4 188.2h0M463.1 188.7h0M463.8 189.2h0M464.5 189.7h0M465.3 190.1h0M466.0 190.6h0M466.7 191.0h0M467.4 191.4h0M468.1 191.7h0M468.9 192.1h0M469.6 192.4h0M470.3 192.7h0M471.0 193.0h0M471.7 193.2h0M472.5 193.5h0M473.2 193.7h0M473.9 194.0h0M474.6 194.2h0M475.3 194.4h0M476.1 194.7h0M476.8 194.9h0M477.5 195.0h0M478.2 195.2h0M478.9 195.4h0M479.7 195.5h0M480.4 195.7h0M481.1 195.8h0M481.8 195.9h0" fill="none" stroke="#9d62e2" stroke-width="3.0" stroke-linecap="round"/>
<path d="M207.5 183.8 L208.9 179.0 L210.4 174.1 L211.8 169.3 L213.3 164.9 L214.7 160.1 L216.1 154.1 L217.6 145.4 L219.0 135.5 L220.5 126.2 L221.9 116.8 L223.3 107.6 L224.8 99.1 L226.2 92.2 L227.7 86.5 L229.1 81.3 L230.5 77.3 L232.0 74.7 L233.4 72.8 L234.9 71.8 L236.3 71.2 L237.7 71.0 L239.2 71.5 L240.6 72.6 L242.1 74.1 L243.5 77.1 L244.9 81.6 L246.4 86.2 L247.8 91.4 L249.3 96.3 L250.7 99.3 L252.1 101.5 L253.6 102.0 L255.0 101.8 L256.5 101.6 L257.9 101.6 L259.3 102.1 L260.8 102.9 L262.2 104.3 L263.7 107.1 L265.1 110.7 L266.5 115.1 L268.0 121.5 L269.4 129.0 L270.9 136.5 L272.3 142.8 L273.7 148.7 L275.2 154.2 L276.6 159.4 L278.1 163.9 L279.5 168.1 L280.9 172.2 L282.4 175.7 L283.8 178.1 L285.3 179.4 L286.7 180.4 L288.1 181.3 L289.6 182.0 L291.0 182.5 L292.5 182.7 L293.9 182.4 L295.3 181.5 L296.8 180.2 L298.2 179.0 L299.7 178.2 L301.1 177.4 L302.5 176.7 L304.0 176.0 L305.4 175.3 L306.9 174.6 L308.3 173.7 L309.7 172.7 L311.2 171.5 L312.6 170.4 L314.1 169.4 L315.5 168.7 L316.9 168.3 L318.4 168.6 L319.8 170.5 L321.3 176.4 L322.7 185.8 L324.1 195.3 L325.6 206.8 L327.0 217.6 L328.5 223.5 L329.9 226.9 L331.3 229.1 L332.8 229.6 L334.2 229.8 L335.7 229.9 L337.1 230.1 L338.5 230.2 L340.0 230.2 L341.4 230.3 L342.9 230.3 L344.3 230.3 L345.7 230.1 L347.2 229.6 L348.6 228.8 L350.1 227.8 L351.5 226.6 L352.9 225.2 L354.4 223.6 L355.8 220.9 L357.3 217.1 L358.7 212.4 L360.1 206.0 L361.6 197.5 L363.0 189.1 L364.5 180.5 L365.9 171.7 L367.3 163.0 L368.8 154.9 L370.2 147.7 L371.7 141.1 L373.1 134.4 L374.5 127.0 L376.0 118.1 L377.4 105.6 L378.9 92.6 L380.3 82.8 L381.7 73.7 L383.2 68.5 L384.6 70.1 L386.1 75.8 L387.5 82.5 L388.9 92.4 L390.4 102.6 L391.8 108.4 L393.3 111.0 L394.7 112.8 L396.1 114.6 L397.6 117.3 L399.0 122.3 L400.5 128.8 L401.9 134.4 L403.3 139.6 L404.8 144.1 L406.2 148.0 L407.7 151.5 L409.1 154.8 L410.5 157.9 L412.0 160.9 L413.4 164.2 L414.9 167.6 L416.3 170.8 L417.7 173.6 L419.2 175.5 L420.6 176.6 L422.1 177.5 L423.5 178.3 L424.9 178.9 L426.4 179.5 L427.8 180.1 L429.3 180.7 L430.7 181.3 L432.1 181.9 L433.6 182.5 L435.0 183.1 L436.5 183.7 L437.9 184.2 L439.3 184.7 L440.8 185.3 L442.2 185.8 L443.7 186.3 L445.1 186.7 L446.5 187.2 L448.0 187.7 L449.4 188.2 L450.9 188.6 L452.3 189.1 L453.7 189.5 L455.2 189.9 L456.6 190.4 L458.1 190.8 L459.5 191.2 L460.9 191.6 L462.4 192.0 L463.8 192.4 L465.3 192.8 L466.7 193.2 L468.1 193.6 L469.6 194.0 L471.0 194.3 L472.5 194.7 L473.9 195.1 L475.3 195.4 L476.8 195.8 L478.2 196.1 L479.7 196.5 L481.1 196.8" fill="none" stroke="#2a9f4c" stroke-width="0.8"/>
<path d="M207.5 183.8h0M208.2 181.4h0M208.9 179.0h0M209.7 176.5h0M210.4 174.1h0M211.1 171.7h0M211.8 169.3h0M212.5 167.1h0M213.3 164.9h0M214.0 162.6h0M214.7 160.1h0M215.4 157.3h0M216.1 154.1h0M216.9 150.0h0M217.6 145.4h0M218.3 140.4h0M219.0 135.5h0M219.7 130.7h0M220.5 126.2h0M221.2 121.6h0M221.9 116.8h0M222.6 112.2h0M223.3 107.6h0M224.1 103.2h0M224.8 99.1h0M225.5 95.4h0M226.2 92.2h0M226.9 89.3h0M227.7 86.5h0M228.4 83.8h0M229.1 81.3h0M229.8 79.2h0M230.5 77.3h0M231.3 75.8h0M232.0 74.7h0M232.7 73.7h0M233.4 72.8h0M234.1 72.2h0M234.9 71.8h0M235.6 71.5h0M236.3 71.2h0M237.0 71.0h0M237.7 71.0h0M238.5 71.1h0M239.2 71.5h0M239.9 72.0h0M240.6 72.6h0M241.3 73.3h0M242.1 74.1h0M242.8 75.3h0M243.5 77.1h0M244.2 79.3h0M244.9 81.6h0M245.7 84.0h0M246.4 86.2h0M247.1 88.7h0M247.8 91.4h0M248.5 94.0h0M249.3 96.3h0M250.0 98.0h0M250.7 99.3h0M251.4 100.6h0M252.1 101.5h0M252.9 102.0h0M253.6 102.0h0M254.3 101.9h0M255.0 101.8h0M255.7 101.7h0M256.5 101.6h0M257.2 101.6h0M257.9 101.6h0M258.6 101.8h0M259.3 102.1h0M260.1 102.5h0M260.8 102.9h0M261.5 103.4h0M262.2 104.3h0M262.9 105.6h0M263.7 107.1h0M264.4 108.8h0M265.1 110.7h0M265.8 112.6h0M266.5 115.1h0M267.3 118.1h0M268.0 121.5h0M268.7 125.2h0M269.4 129.0h0M270.1 132.8h0M270.9 136.5h0M271.6 139.8h0M272.3 142.8h0M273.0 145.8h0M273.7 148.7h0M274.5 151.5h0M275.2 154.2h0M275.9 156.9h0M276.6 159.4h0M277.3 161.7h0M278.1 163.9h0M278.8 166.0h0M279.5 168.1h0M280.2 170.2h0M280.9 172.2h0M281.7 174.0h0M282.4 175.7h0M283.1 177.1h0M283.8 178.1h0M284.5 178.8h0M285.3 179.4h0M286.0 179.9h0M286.7 180.4h0M287.4 180.9h0M288.1 181.3h0M288.9 181.7h0M289.6 182.0h0M290.3 182.3h0M291.0 182.5h0M291.7 182.6h0M292.5 182.7h0M293.2 182.6h0M293.9 182.4h0M294.6 182.0h0M295.3 181.5h0M296.1 180.9h0M296.8 180.2h0M297.5 179.6h0M298.2 179.0h0M298.9 178.6h0M299.7 178.2h0M300.4 177.8h0M301.1 177.4h0M301.8 177.1h0M302.5 176.7h0M303.3 176.4h0M304.0 176.0h0M304.7 175.7h0M305.4 175.3h0M306.1 175.0h0M306.9 174.6h0M307.6 174.2h0M308.3 173.7h0M309.0 173.2h0M309.7 172.7h0M310.5 172.1h0M311.2 171.5h0M311.9 171.0h0M312.6 170.4h0M313.3 169.9h0M314.1 169.4h0M314.8 169.0h0M315.5 168.7h0M316.2 168.4h0M316.9 168.3h0M317.7 168.2h0M318.4 168.6h0M319.1 169.4h0M319.8 170.5h0M320.5 172.8h0M321.3 176.4h0M322.0 180.8h0M322.7 185.8h0M323.4 190.7h0M324.1 195.3h0M324.9 200.8h0M325.6 206.8h0M326.3 212.6h0M327.0 217.6h0M327.7 221.3h0M328.5 223.5h0M329.2 225.3h0M329.9 226.9h0M330.6 228.2h0M331.3 229.1h0M332.1 229.5h0M332.8 229.6h0M333.5 229.7h0M334.2 229.8h0M334.9 229.9h0M335.7 229.9h0M336.4 230.0h0M337.1 230.1h0M337.8 230.1h0M338.5 230.2h0M339.3 230.2h0M340.0 230.2h0M340.7 230.2h0M341.4 230.3h0M342.1 230.3h0M342.9 230.3h0M343.6 230.3h0M344.3 230.3h0M345.0 230.2h0M345.7 230.1h0M346.5 229.9h0M347.2 229.6h0M347.9 229.3h0M348.6 228.8h0M349.3 228.3h0M350.1 227.8h0M350.8 227.2h0M351.5 226.6h0M352.2 225.9h0M352.9 225.2h0M353.7 224.5h0M354.4 223.6h0M355.1 222.4h0M355.8 220.9h0M356.5 219.1h0M357.3 217.1h0M358.0 214.8h0M358.7 212.4h0M359.4 209.6h0M360.1 206.0h0M360.9 201.9h0M361.6 197.5h0M362.3 193.3h0M363.0 189.1h0M363.7 184.9h0M364.5 180.5h0M365.2 176.1h0M365.9 171.7h0M366.6 167.3h0M367.3 163.0h0M368.1 158.8h0M368.8 154.9h0M369.5 151.2h0M370.2 147.7h0M370.9 144.4h0M371.7 141.1h0M372.4 137.8h0M373.1 134.4h0M373.8 130.8h0M374.5 127.0h0M375.3 122.8h0M376.0 118.1h0M376.7 112.2h0M377.4 105.6h0M378.1 98.8h0M378.9 92.6h0M379.6 87.5h0M380.3 82.8h0M381.0 78.0h0M381.7 73.7h0M382.5 70.4h0M383.2 68.5h0M383.9 68.6h0M384.6 70.1h0M385.3 72.6h0M386.1 75.8h0M386.8 79.0h0M387.5 82.5h0M388.2 87.1h0M388.9 92.4h0M389.7 97.8h0M390.4 102.6h0M391.1 106.3h0M391.8 108.4h0M392.5 109.9h0M393.3 111.0h0M394.0 112.0h0M394.7 112.8h0M395.4 113.6h0M396.1 114.6h0M396.9 115.8h0M397.6 117.3h0M398.3 119.4h0M399.0 122.3h0M399.7 125.5h0M400.5 128.8h0M401.2 131.7h0M401.9 134.4h0M402.6 137.0h0M403.3 139.6h0M404.1 142.0h0M404.8 144.1h0M405.5 146.1h0M406.2 148.0h0M406.9 149.8h0M407.7 151.5h0M408.4 153.2h0M409.1 154.8h0M409.8 156.3h0M410.5 157.9h0M411.3 159.4h0M412.0 160.9h0M412.7 162.5h0M413.4 164.2h0M414.1 165.9h0M414.9 167.6h0M415.6 169.3h0M416.3 170.8h0M417.0 172.3h0M417.7 173.6h0M418.5 174.7h0M419.2 175.5h0M419.9 176.1h0M420.6 176.6h0M421.3 177.1h0M422.1 177.5h0M422.8 177.9h0M423.5 178.3h0M424.2 178.6h0M424.9 178.9h0M425.7 179.2h0M426.4 179.5h0M427.1 179.8h0M427.8 180.1h0M428.5 180.4h0M429.3 180.7h0M430.0 181.0h0M430.7 181.3h0M431.4 181.6h0M432.1 181.9h0M432.9 182.2h0M433.6 182.5h0M434.3 182.8h0M435.0 183.1h0M435.7 183.4h0M436.5 183.7h0M437.2 183.9h0M437.9 184.2h0M438.6 184.5h0M439.3 184.7h0M440.1 185.0h0M440.8 185.3h0M441.5 185.5h0M442.2 185.8h0M442.9 186.0h0M443.7 186.3h0M444.4 186.5h0M445.1 186.7h0M445.8 187.0h0M446.5 187.2h0M447.3 187.5h0M448.0 187.7h0M448.7 187.9h0M449.4 188.2h0M450.1 188.4h0M450.9 188.6h0M451.6 188.8h0M452.3 189.1h0M453.0 189.3h0M453.7 189.5h0M454.5 189.7h0M455.2 189.9h0M455.9 190.1h0M456.6 190.4h0M457.3 190.6h0M458.1 190.8h0M458.8 191.0h0M459.5 191.2h0M460.2 191.4h0M460.9 191.6h0M461.7 191.8h0M462.4 192.0h0M463.1 192.2h0M463.8 192.4h0M464.5 192.6h0M465.3 192.8h0M466.0 193.0h0M466.7 193.2h0M467.4 193.4h0M468.1 193.6h0M468.9 193.8h0M469.6 194.0h0M470.3 194.1h0M471.0 194.3h0M471.7 194.5h0M472.5 194.7h0M473.2 194.9h0M473.9 195.1h0M474.6 195.2h0M475.3 195.4h0M476.1 195.6h0M476.8 195.8h0M477.5 195.9h0M478.2 196.1h0M478.9 196.3h0M479.7 196.5h0M480.4 196.6h0M481.1 196.8h0M481.8 197.0h0" fill="none" stroke="#2a9f4c" stroke-width="3.0" stroke-linecap="round"/>
<path d="M207.5 179.6 L208.9 176.3 L210.4 173.2 L211.8 170.6 L213.3 168.8 L214.7 166.6 L216.1 162.7 L217.6 152.5 L219.0 139.8 L220.5 128.1 L221.9 115.9 L223.3 104.1 L224.8 91.4 L226.2 72.9 L227.7 52.0 L229.1 39.7 L230.5 30.0 L232.0 23.8 L233.4 23.2 L234.9 27.8 L236.3 34.7 L237.7 41.8 L239.2 50.6 L240.6 59.8 L242.1 67.8 L243.5 75.3 L244.9 82.6 L246.4 90.0 L247.8 97.3 L249.3 104.7 L250.7 112.0 L252.1 119.2 L253.6 126.4 L255.0 134.4 L256.5 143.2 L257.9 151.2 L259.3 158.6 L260.8 165.7 L262.2 172.4 L263.7 178.9 L265.1 184.9 L266.5 190.5 L268.0 196.1 L269.4 201.9 L270.9 208.4 L272.3 215.2 L273.7 220.7 L275.2 226.0 L276.6 229.2 L278.1 229.1 L279.5 227.6 L280.9 226.1 L282.4 224.8 L283.8 223.6 L285.3 222.3 L286.7 221.2 L288.1 220.3 L289.6 219.6 L291.0 218.9 L292.5 218.4 L293.9 217.9 L295.3 217.4 L296.8 216.9 L298.2 216.3 L299.7 215.6 L301.1 214.9 L302.5 214.1 L304.0 213.3 L305.4 212.5 L306.9 211.6 L308.3 210.7 L309.7 209.8 L311.2 208.8 L312.6 207.8 L314.1 206.4 L315.5 205.0 L316.9 203.7 L318.4 202.8 L319.8 202.5 L321.3 203.6 L322.7 206.1 L324.1 209.0 L325.6 211.4 L327.0 213.1 L328.5 214.8 L329.9 216.4 L331.3 217.7 L332.8 218.7 L334.2 219.1 L335.7 219.2 L337.1 219.3 L338.5 219.4 L340.0 219.3 L341.4 218.2 L342.9 216.6 L344.3 214.7 L345.7 212.0 L347.2 208.1 L348.6 200.4 L350.1 190.3 L351.5 180.6 L352.9 172.0 L354.4 163.5 L355.8 155.5 L357.3 147.8 L358.7 140.0 L360.1 131.6 L361.6 123.0 L363.0 113.9 L364.5 103.6 L365.9 95.4 L367.3 90.1 L368.8 86.2 L370.2 85.5 L371.7 87.3 L373.1 90.2 L374.5 95.8 L376.0 102.9 L377.4 109.9 L378.9 117.2 L380.3 124.7 L381.7 132.4 L383.2 140.2 L384.6 147.7 L386.1 154.7 L387.5 161.7 L388.9 168.2 L390.4 173.6 L391.8 178.2 L393.3 182.2 L394.7 185.0 L396.1 186.2 L397.6 187.2 L399.0 187.8 L400.5 187.9 L401.9 187.8 L403.3 187.7 L404.8 187.5 L406.2 187.2 L407.7 187.0 L409.1 186.8 L410.5 186.7 L412.0 186.6 L413.4 186.7 L414.9 187.2 L416.3 187.8 L417.7 188.5 L419.2 189.3 L420.6 189.9 L422.1 190.4 L423.5 190.7 L424.9 191.1 L426.4 191.4 L427.8 191.7 L429.3 191.9 L430.7 192.2 L432.1 192.4 L433.6 192.7 L435.0 192.9 L436.5 193.1 L437.9 193.4 L439.3 193.6 L440.8 193.8 L442.2 194.1 L443.7 194.3 L445.1 194.5 L446.5 194.7 L448.0 195.0 L449.4 195.2 L450.9 195.4 L452.3 195.6 L453.7 195.8 L455.2 196.0 L456.6 196.2 L458.1 196.4 L459.5 196.6 L460.9 196.8 L462.4 197.1 L463.8 197.3 L465.3 197.6 L466.7 197.8 L468.1 198.1 L469.6 198.4 L471.0 198.7 L472.5 199.0 L473.9 199.3 L475.3 199.6 L476.8 200.0 L478.2 200.3 L479.7 200.6 L481.1 201.0" fill="none" stroke="#1e62d8" stroke-width="0.8"/>
<path d="M207.5 179.6h0M208.2 177.9h0M208.9 176.3h0M209.7 174.7h0M210.4 173.2h0M211.1 171.8h0M211.8 170.6h0M212.5 169.7h0M213.3 168.8h0M214.0 167.8h0M214.7 166.6h0M215.4 165.0h0M216.1 162.7h0M216.9 158.3h0M217.6 152.5h0M218.3 146.0h0M219.0 139.8h0M219.7 134.0h0M220.5 128.1h0M221.2 122.0h0M221.9 115.9h0M222.6 109.9h0M223.3 104.1h0M224.1 98.0h0M224.8 91.4h0M225.5 83.4h0M226.2 72.9h0M226.9 61.8h0M227.7 52.0h0M228.4 45.2h0M229.1 39.7h0M229.8 34.6h0M230.5 30.0h0M231.3 26.3h0M232.0 23.8h0M232.7 22.7h0M233.4 23.2h0M234.1 25.1h0M234.9 27.8h0M235.6 31.1h0M236.3 34.7h0M237.0 38.1h0M237.7 41.8h0M238.5 46.0h0M239.2 50.6h0M239.9 55.3h0M240.6 59.8h0M241.3 63.9h0M242.1 67.8h0M242.8 71.6h0M243.5 75.3h0M244.2 78.9h0M244.9 82.6h0M245.7 86.3h0M246.4 90.0h0M247.1 93.6h0M247.8 97.3h0M248.5 101.0h0M249.3 104.7h0M250.0 108.3h0M250.7 112.0h0M251.4 115.6h0M252.1 119.2h0M252.9 122.8h0M253.6 126.4h0M254.3 130.2h0M255.0 134.4h0M255.7 138.8h0M256.5 143.2h0M257.2 147.3h0M257.9 151.2h0M258.6 155.0h0M259.3 158.6h0M260.1 162.2h0M260.8 165.7h0M261.5 169.1h0M262.2 172.4h0M262.9 175.7h0M263.7 178.9h0M264.4 181.9h0M265.1 184.9h0M265.8 187.7h0M266.5 190.5h0M267.3 193.3h0M268.0 196.1h0M268.7 198.9h0M269.4 201.9h0M270.1 205.0h0M270.9 208.4h0M271.6 211.9h0M272.3 215.2h0M273.0 218.1h0M273.7 220.7h0M274.5 223.5h0M275.2 226.0h0M275.9 228.0h0M276.6 229.2h0M277.3 229.5h0M278.1 229.1h0M278.8 228.5h0M279.5 227.6h0M280.2 226.8h0M280.9 226.1h0M281.7 225.4h0M282.4 224.8h0M283.1 224.2h0M283.8 223.6h0M284.5 222.9h0M285.3 222.3h0M286.0 221.8h0M286.7 221.2h0M287.4 220.7h0M288.1 220.3h0M288.9 219.9h0M289.6 219.6h0M290.3 219.2h0M291.0 218.9h0M291.7 218.7h0M292.5 218.4h0M293.2 218.1h0M293.9 217.9h0M294.6 217.7h0M295.3 217.4h0M296.1 217.2h0M296.8 216.9h0M297.5 216.6h0M298.2 216.3h0M298.9 216.0h0M299.7 215.6h0M300.4 215.3h0M301.1 214.9h0M301.8 214.5h0M302.5 214.1h0M303.3 213.7h0M304.0 213.3h0M304.7 212.9h0M305.4 212.5h0M306.1 212.1h0M306.9 211.6h0M307.6 211.2h0M308.3 210.7h0M309.0 210.3h0M309.7 209.8h0M310.5 209.3h0M311.2 208.8h0M311.9 208.3h0M312.6 207.8h0M313.3 207.1h0M314.1 206.4h0M314.8 205.7h0M315.5 205.0h0M316.2 204.3h0M316.9 203.7h0M317.7 203.2h0M318.4 202.8h0M319.1 202.6h0M319.8 202.5h0M320.5 202.9h0M321.3 203.6h0M322.0 204.8h0M322.7 206.1h0M323.4 207.5h0M324.1 209.0h0M324.9 210.3h0M325.6 211.4h0M326.3 212.3h0M327.0 213.1h0M327.7 213.9h0M328.5 214.8h0M329.2 215.6h0M329.9 216.4h0M330.6 217.1h0M331.3 217.7h0M332.1 218.2h0M332.8 218.7h0M333.5 219.0h0M334.2 219.1h0M334.9 219.2h0M335.7 219.2h0M336.4 219.3h0M337.1 219.3h0M337.8 219.4h0M338.5 219.4h0M339.3 219.4h0M340.0 219.3h0M340.7 218.8h0M341.4 218.2h0M342.1 217.4h0M342.9 216.6h0M343.6 215.7h0M344.3 214.7h0M345.0 213.5h0M345.7 212.0h0M346.5 210.3h0M347.2 208.1h0M347.9 204.7h0M348.6 200.4h0M349.3 195.4h0M350.1 190.3h0M350.8 185.2h0M351.5 180.6h0M352.2 176.3h0M352.9 172.0h0M353.7 167.7h0M354.4 163.5h0M355.1 159.4h0M355.8 155.5h0M356.5 151.6h0M357.3 147.8h0M358.0 143.9h0M358.7 140.0h0M359.4 135.8h0M360.1 131.6h0M360.9 127.4h0M361.6 123.0h0M362.3 118.6h0M363.0 113.9h0M363.7 108.7h0M364.5 103.6h0M365.2 99.0h0M365.9 95.4h0M366.6 92.7h0M367.3 90.1h0M368.1 87.8h0M368.8 86.2h0M369.5 85.3h0M370.2 85.5h0M370.9 86.2h0M371.7 87.3h0M372.4 88.7h0M373.1 90.2h0M373.8 92.6h0M374.5 95.8h0M375.3 99.4h0M376.0 102.9h0M376.7 106.3h0M377.4 109.9h0M378.1 113.5h0M378.9 117.2h0M379.6 120.9h0M380.3 124.7h0M381.0 128.5h0M381.7 132.4h0M382.5 136.3h0M383.2 140.2h0M383.9 144.0h0M384.6 147.7h0M385.3 151.2h0M386.1 154.7h0M386.8 158.2h0M387.5 161.7h0M388.2 165.1h0M388.9 168.2h0M389.7 171.1h0M390.4 173.6h0M391.1 175.9h0M391.8 178.2h0M392.5 180.3h0M393.3 182.2h0M394.0 183.8h0M394.7 185.0h0M395.4 185.7h0M396.1 186.2h0M396.9 186.8h0M397.6 187.2h0M398.3 187.5h0M399.0 187.8h0M399.7 187.9h0M400.5 187.9h0M401.2 187.9h0M401.9 187.8h0M402.6 187.7h0M403.3 187.7h0M404.1 187.6h0M404.8 187.5h0M405.5 187.3h0M406.2 187.2h0M406.9 187.1h0M407.7 187.0h0M408.4 186.9h0M409.1 186.8h0M409.8 186.7h0M410.5 186.7h0M411.3 186.6h0M412.0 186.6h0M412.7 186.6h0M413.4 186.7h0M414.1 186.9h0M414.9 187.2h0M415.6 187.5h0M416.3 187.8h0M417.0 188.2h0M417.7 188.5h0M418.5 188.9h0M419.2 189.3h0M419.9 189.6h0M420.6 189.9h0M421.3 190.2h0M422.1 190.4h0M422.8 190.5h0M423.5 190.7h0M424.2 190.9h0M424.9 191.1h0M425.7 191.2h0M426.4 191.4h0M427.1 191.5h0M427.8 191.7h0M428.5 191.8h0M429.3 191.9h0M430.0 192.1h0M430.7 192.2h0M431.4 192.3h0M432.1 192.4h0M432.9 192.6h0M433.6 192.7h0M434.3 192.8h0M435.0 192.9h0M435.7 193.0h0M436.5 193.1h0M437.2 193.2h0M437.9 193.4h0M438.6 193.5h0M439.3 193.6h0M440.1 193.7h0M440.8 193.8h0M441.5 194.0h0M442.2 194.1h0M442.9 194.2h0M443.7 194.3h0M444.4 194.4h0M445.1 194.5h0M445.8 194.6h0M446.5 194.7h0M447.3 194.8h0M448.0 195.0h0M448.7 195.1h0M449.4 195.2h0M450.1 195.3h0M450.9 195.4h0M451.6 195.5h0M452.3 195.6h0M453.0 195.7h0M453.7 195.8h0M454.5 195.9h0M455.2 196.0h0M455.9 196.1h0M456.6 196.2h0M457.3 196.3h0M458.1 196.4h0M458.8 196.5h0M459.5 196.6h0M460.2 196.7h0M460.9 196.8h0M461.7 197.0h0M462.4 197.1h0M463.1 197.2h0M463.8 197.3h0M464.5 197.4h0M465.3 197.6h0M466.0 197.7h0M466.7 197.8h0M467.4 198.0h0M468.1 198.1h0M468.9 198.3h0M469.6 198.4h0M470.3 198.5h0M471.0 198.7h0M471.7 198.8h0M472.5 199.0h0M473.2 199.2h0M473.9 199.3h0M474.6 199.5h0M475.3 199.6h0M476.1 199.8h0M476.8 200.0h0M477.5 200.1h0M478.2 200.3h0M478.9 200.5h0M479.7 200.6h0M480.4 200.8h0M481.1 201.0h0M481.8 201.2h0" fill="none" stroke="#1e62d8" stroke-width="3.0" stroke-linecap="round"/>
<path d="M207.5 193.1 L208.9 193.5 L210.4 194.2 L211.8 195.3 L213.3 196.8 L214.7 199.5 L216.1 204.3 L217.6 207.6 L219.0 207.2 L220.5 205.6 L221.9 204.1 L223.3 203.1 L224.8 202.3 L226.2 201.4 L227.7 200.6 L229.1 199.5 L230.5 194.3 L232.0 185.1 L233.4 176.1 L234.9 168.5 L236.3 164.3 L237.7 161.5 L239.2 161.2 L240.6 163.3 L242.1 166.3 L243.5 170.8 L244.9 174.5 L246.4 176.5 L247.8 178.1 L249.3 179.4 L250.7 180.4 L252.1 181.1 L253.6 181.5 L255.0 181.9 L256.5 182.3 L257.9 183.0 L259.3 184.0 L260.8 185.1 L262.2 186.5 L263.7 188.0 L265.1 189.9 L266.5 192.2 L268.0 194.6 L269.4 196.8 L270.9 198.6 L272.3 200.2 L273.7 201.8 L275.2 203.2 L276.6 204.5 L278.1 205.6 L279.5 206.5 L280.9 207.5 L282.4 208.4 L283.8 209.1 L285.3 209.8 L286.7 210.4 L288.1 210.7 L289.6 211.0 L291.0 211.1 L292.5 211.2 L293.9 211.3 L295.3 211.4 L296.8 211.5 L298.2 211.7 L299.7 212.0 L301.1 212.4 L302.5 213.1 L304.0 213.8 L305.4 214.5 L306.9 215.2 L308.3 215.8 L309.7 216.1 L311.2 216.3 L312.6 216.6 L314.1 216.8 L315.5 216.9 L316.9 217.0 L318.4 217.0 L319.8 217.0 L321.3 217.0 L322.7 217.0 L324.1 217.0 L325.6 217.0 L327.0 217.0 L328.5 217.0 L329.9 216.4 L331.3 215.3 L332.8 213.1 L334.2 206.7 L335.7 197.9 L337.1 189.5 L338.5 181.5 L340.0 173.3 L341.4 165.5 L342.9 158.5 L344.3 151.8 L345.7 145.9 L347.2 140.9 L348.6 136.3 L350.1 132.9 L351.5 130.0 L352.9 127.8 L354.4 127.5 L355.8 129.6 L357.3 133.1 L358.7 136.9 L360.1 142.0 L361.6 147.9 L363.0 154.5 L364.5 162.4 L365.9 168.8 L367.3 174.4 L368.8 179.0 L370.2 183.0 L371.7 186.3 L373.1 189.1 L374.5 191.4 L376.0 192.9 L377.4 193.9 L378.9 194.7 L380.3 195.1 L381.7 194.7 L383.2 193.4 L384.6 191.6 L386.1 189.9 L387.5 188.2 L388.9 186.2 L390.4 184.6 L391.8 184.2 L393.3 185.1 L394.7 186.6 L396.1 188.1 L397.6 189.9 L399.0 191.7 L400.5 193.1 L401.9 194.3 L403.3 195.4 L404.8 196.5 L406.2 197.4 L407.7 198.1 L409.1 198.6 L410.5 199.0 L412.0 199.3 L413.4 199.5 L414.9 199.7 L416.3 199.9 L417.7 200.1 L419.2 200.3 L420.6 200.4 L422.1 200.5 L423.5 200.7 L424.9 200.8 L426.4 200.9 L427.8 201.1 L429.3 201.2 L430.7 201.4 L432.1 201.5 L433.6 201.7 L435.0 201.8 L436.5 202.0 L437.9 202.1 L439.3 202.2 L440.8 202.4 L442.2 202.5 L443.7 202.7 L445.1 202.8 L446.5 202.9 L448.0 203.1 L449.4 203.2 L450.9 203.4 L452.3 203.5 L453.7 203.6 L455.2 203.8 L456.6 203.9 L458.1 204.1 L459.5 204.2 L460.9 204.4 L462.4 204.5 L463.8 204.7 L465.3 204.8 L466.7 205.0 L468.1 205.1 L469.6 205.3 L471.0 205.4 L472.5 205.6 L473.9 205.7 L475.3 205.9 L476.8 206.0 L478.2 206.2 L479.7 206.3 L481.1 206.5" fill="none" stroke="#ec2f26" stroke-width="0.8"/>
<path d="M207.5 193.1h0M208.2 193.3h0M208.9 193.5h0M209.7 193.8h0M210.4 194.2h0M211.1 194.7h0M211.8 195.3h0M212.5 195.9h0M213.3 196.8h0M214.0 197.7h0M214.7 199.5h0M215.4 201.9h0M216.1 204.3h0M216.9 206.4h0M217.6 207.6h0M218.3 207.6h0M219.0 207.2h0M219.7 206.5h0M220.5 205.6h0M221.2 204.8h0M221.9 204.1h0M222.6 203.6h0M223.3 203.1h0M224.1 202.7h0M224.8 202.3h0M225.5 201.8h0M226.2 201.4h0M226.9 201.0h0M227.7 200.6h0M228.4 200.2h0M229.1 199.5h0M229.8 197.9h0M230.5 194.3h0M231.3 189.6h0M232.0 185.1h0M232.7 180.8h0M233.4 176.1h0M234.1 171.7h0M234.9 168.5h0M235.6 166.3h0M236.3 164.3h0M237.0 162.6h0M237.7 161.5h0M238.5 160.9h0M239.2 161.2h0M239.9 162.0h0M240.6 163.3h0M241.3 164.7h0M242.1 166.3h0M242.8 168.5h0M243.5 170.8h0M244.2 173.0h0M244.9 174.5h0M245.7 175.5h0M246.4 176.5h0M247.1 177.3h0M247.8 178.1h0M248.5 178.8h0M249.3 179.4h0M250.0 179.9h0M250.7 180.4h0M251.4 180.8h0M252.1 181.1h0M252.9 181.3h0M253.6 181.5h0M254.3 181.7h0M255.0 181.9h0M255.7 182.1h0M256.5 182.3h0M257.2 182.6h0M257.9 183.0h0M258.6 183.5h0M259.3 184.0h0M260.1 184.5h0M260.8 185.1h0M261.5 185.8h0M262.2 186.5h0M262.9 187.2h0M263.7 188.0h0M264.4 188.8h0M265.1 189.9h0M265.8 191.0h0M266.5 192.2h0M267.3 193.4h0M268.0 194.6h0M268.7 195.8h0M269.4 196.8h0M270.1 197.7h0M270.9 198.6h0M271.6 199.4h0M272.3 200.2h0M273.0 201.0h0M273.7 201.8h0M274.5 202.5h0M275.2 203.2h0M275.9 203.9h0M276.6 204.5h0M277.3 205.1h0M278.1 205.6h0M278.8 206.1h0M279.5 206.5h0M280.2 207.0h0M280.9 207.5h0M281.7 207.9h0M282.4 208.4h0M283.1 208.8h0M283.8 209.1h0M284.5 209.5h0M285.3 209.8h0M286.0 210.1h0M286.7 210.4h0M287.4 210.6h0M288.1 210.7h0M288.9 210.9h0M289.6 211.0h0M290.3 211.0h0M291.0 211.1h0M291.7 211.2h0M292.5 211.2h0M293.2 211.3h0M293.9 211.3h0M294.6 211.4h0M295.3 211.4h0M296.1 211.5h0M296.8 211.5h0M297.5 211.6h0M298.2 211.7h0M298.9 211.8h0M299.7 212.0h0M300.4 212.2h0M301.1 212.4h0M301.8 212.7h0M302.5 213.1h0M303.3 213.4h0M304.0 213.8h0M304.7 214.2h0M305.4 214.5h0M306.1 214.9h0M306.9 215.2h0M307.6 215.5h0M308.3 215.8h0M309.0 215.9h0M309.7 216.1h0M310.5 216.2h0M311.2 216.3h0M311.9 216.5h0M312.6 216.6h0M313.3 216.7h0M314.1 216.8h0M314.8 216.8h0M315.5 216.9h0M316.2 217.0h0M316.9 217.0h0M317.7 217.0h0M318.4 217.0h0M319.1 217.0h0M319.8 217.0h0M320.5 217.0h0M321.3 217.0h0M322.0 217.0h0M322.7 217.0h0M323.4 217.0h0M324.1 217.0h0M324.9 217.0h0M325.6 217.0h0M326.3 217.0h0M327.0 217.0h0M327.7 217.0h0M328.5 217.0h0M329.2 216.8h0M329.9 216.4h0M330.6 215.9h0M331.3 215.3h0M332.1 214.5h0M332.8 213.1h0M333.5 210.4h0M334.2 206.7h0M334.9 202.4h0M335.7 197.9h0M336.4 193.5h0M337.1 189.5h0M337.8 185.6h0M338.5 181.5h0M339.3 177.4h0M340.0 173.3h0M340.7 169.3h0M341.4 165.5h0M342.1 161.9h0M342.9 158.5h0M343.6 155.1h0M344.3 151.8h0M345.0 148.8h0M345.7 145.9h0M346.5 143.4h0M347.2 140.9h0M347.9 138.5h0M348.6 136.3h0M349.3 134.5h0M350.1 132.9h0M350.8 131.4h0M351.5 130.0h0M352.2 128.8h0M352.9 127.8h0M353.7 127.3h0M354.4 127.5h0M355.1 128.3h0M355.8 129.6h0M356.5 131.3h0M357.3 133.1h0M358.0 135.0h0M358.7 136.9h0M359.4 139.3h0M360.1 142.0h0M360.9 144.9h0M361.6 147.9h0M362.3 151.1h0M363.0 154.5h0M363.7 158.5h0M364.5 162.4h0M365.2 165.8h0M365.9 168.8h0M366.6 171.7h0M367.3 174.4h0M368.1 176.8h0M368.8 179.0h0M369.5 181.1h0M370.2 183.0h0M370.9 184.8h0M371.7 186.3h0M372.4 187.7h0M373.1 189.1h0M373.8 190.3h0M374.5 191.4h0M375.3 192.3h0M376.0 192.9h0M376.7 193.4h0M377.4 193.9h0M378.1 194.4h0M378.9 194.7h0M379.6 195.0h0M380.3 195.1h0M381.0 195.0h0M381.7 194.7h0M382.5 194.1h0M383.2 193.4h0M383.9 192.5h0M384.6 191.6h0M385.3 190.7h0M386.1 189.9h0M386.8 189.1h0M387.5 188.2h0M388.2 187.1h0M388.9 186.2h0M389.7 185.3h0M390.4 184.6h0M391.1 184.3h0M391.8 184.2h0M392.5 184.5h0M393.3 185.1h0M394.0 185.8h0M394.7 186.6h0M395.4 187.4h0M396.1 188.1h0M396.9 189.0h0M397.6 189.9h0M398.3 190.8h0M399.0 191.7h0M399.7 192.5h0M400.5 193.1h0M401.2 193.7h0M401.9 194.3h0M402.6 194.9h0M403.3 195.4h0M404.1 196.0h0M404.8 196.5h0M405.5 196.9h0M406.2 197.4h0M406.9 197.8h0M407.7 198.1h0M408.4 198.4h0M409.1 198.6h0M409.8 198.8h0M410.5 199.0h0M411.3 199.1h0M412.0 199.3h0M412.7 199.4h0M413.4 199.5h0M414.1 199.6h0M414.9 199.7h0M415.6 199.8h0M416.3 199.9h0M417.0 200.0h0M417.7 200.1h0M418.5 200.2h0M419.2 200.3h0M419.9 200.3h0M420.6 200.4h0M421.3 200.5h0M422.1 200.5h0M422.8 200.6h0M423.5 200.7h0M424.2 200.7h0M424.9 200.8h0M425.7 200.9h0M426.4 200.9h0M427.1 201.0h0M427.8 201.1h0M428.5 201.1h0M429.3 201.2h0M430.0 201.3h0M430.7 201.4h0M431.4 201.5h0M432.1 201.5h0M432.9 201.6h0M433.6 201.7h0M434.3 201.7h0M435.0 201.8h0M435.7 201.9h0M436.5 202.0h0M437.2 202.0h0M437.9 202.1h0M438.6 202.2h0M439.3 202.2h0M440.1 202.3h0M440.8 202.4h0M441.5 202.5h0M442.2 202.5h0M442.9 202.6h0M443.7 202.7h0M444.4 202.7h0M445.1 202.8h0M445.8 202.9h0M446.5 202.9h0M447.3 203.0h0M448.0 203.1h0M448.7 203.1h0M449.4 203.2h0M450.1 203.3h0M450.9 203.4h0M451.6 203.4h0M452.3 203.5h0M453.0 203.6h0M453.7 203.6h0M454.5 203.7h0M455.2 203.8h0M455.9 203.9h0M456.6 203.9h0M457.3 204.0h0M458.1 204.1h0M458.8 204.2h0M459.5 204.2h0M460.2 204.3h0M460.9 204.4h0M461.7 204.5h0M462.4 204.5h0M463.1 204.6h0M463.8 204.7h0M464.5 204.8h0M465.3 204.8h0M466.0 204.9h0M466.7 205.0h0M467.4 205.1h0M468.1 205.1h0M468.9 205.2h0M469.6 205.3h0M470.3 205.4h0M471.0 205.4h0M471.7 205.5h0M472.5 205.6h0M473.2 205.7h0M473.9 205.7h0M474.6 205.8h0M475.3 205.9h0M476.1 206.0h0M476.8 206.0h0M477.5 206.1h0M478.2 206.2h0M478.9 206.3h0M479.7 206.3h0M480.4 206.4h0M481.1 206.5h0M481.8 206.6h0" fill="none" stroke="#ec2f26" stroke-width="3.0" stroke-linecap="round"/>
<path d="M207.5 220.1 L208.9 215.9 L210.4 211.4 L211.8 206.6 L213.3 201.5 L214.7 196.1 L216.1 190.4 L217.6 184.7 L219.0 178.8 L220.5 172.8 L221.9 166.7 L223.3 160.7 L224.8 154.8 L226.2 148.8 L227.7 143.3 L229.1 138.7 L230.5 134.6 L232.0 131.1 L233.4 129.7 L234.9 131.3 L236.3 135.0 L237.7 139.3 L239.2 143.4 L240.6 148.2 L242.1 153.2 L243.5 158.1 L244.9 163.0 L246.4 168.0 L247.8 172.6 L249.3 177.1 L250.7 181.5 L252.1 186.1 L253.6 191.2 L255.0 196.1 L256.5 199.9 L257.9 202.2 L259.3 203.9 L260.8 205.0 L262.2 205.2 L263.7 205.0 L265.1 204.6 L266.5 204.0 L268.0 202.6 L269.4 200.8 L270.9 199.1 L272.3 197.5 L273.7 195.7 L275.2 193.9 L276.6 192.6 L278.1 192.1 L279.5 192.3 L280.9 192.7 L282.4 193.3 L283.8 193.9 L285.3 194.5 L286.7 195.2 L288.1 195.9 L289.6 196.7 L291.0 197.5 L292.5 198.4 L293.9 199.4 L295.3 200.4 L296.8 201.4 L298.2 202.4 L299.7 203.4 L301.1 204.4 L302.5 205.3 L304.0 206.2 L305.4 207.0 L306.9 207.7 L308.3 208.4 L309.7 209.2 L311.2 209.9 L312.6 210.7 L314.1 211.5 L315.5 212.5 L316.9 213.9 L318.4 215.2 L319.8 216.3 L321.3 217.0 L322.7 217.0 L324.1 216.9 L325.6 216.6 L327.0 216.3 L328.5 215.2 L329.9 207.4 L331.3 197.9 L332.8 188.3 L334.2 177.8 L335.7 165.8 L337.1 154.3 L338.5 145.2 L340.0 139.0 L341.4 136.0 L342.9 134.5 L344.3 136.0 L345.7 139.4 L347.2 143.0 L348.6 147.4 L350.1 153.4 L351.5 160.8 L352.9 166.7 L354.4 171.8 L355.8 176.4 L357.3 180.8 L358.7 185.1 L360.1 188.2 L361.6 190.7 L363.0 192.4 L364.5 193.0 L365.9 193.3 L367.3 193.5 L368.8 193.5 L370.2 193.2 L371.7 192.9 L373.1 192.7 L374.5 192.8 L376.0 193.3 L377.4 193.9 L378.9 194.8 L380.3 195.9 L381.7 197.8 L383.2 199.9 L384.6 201.8 L386.1 204.0 L387.5 205.9 L388.9 206.8 L390.4 206.4 L391.8 205.6 L393.3 204.9 L394.7 204.3 L396.1 203.8 L397.6 203.6 L399.0 203.6 L400.5 203.6 L401.9 203.6 L403.3 203.6 L404.8 203.6 L406.2 203.6 L407.7 203.6 L409.1 203.6 L410.5 203.6 L412.0 203.6 L413.4 203.6 L414.9 203.6 L416.3 203.6 L417.7 203.6 L419.2 203.6 L420.6 203.7 L422.1 203.8 L423.5 203.9 L424.9 204.0 L426.4 204.2 L427.8 204.3 L429.3 204.5 L430.7 204.7 L432.1 204.9 L433.6 205.1 L435.0 205.3 L436.5 205.4 L437.9 205.6 L439.3 205.8 L440.8 206.0 L442.2 206.1 L443.7 206.3 L445.1 206.4 L446.5 206.6 L448.0 206.7 L449.4 206.9 L450.9 207.0 L452.3 207.2 L453.7 207.3 L455.2 207.5 L456.6 207.6 L458.1 207.8 L459.5 207.9 L460.9 208.1 L462.4 208.2 L463.8 208.3 L465.3 208.5 L466.7 208.6 L468.1 208.8 L469.6 208.9 L471.0 209.0 L472.5 209.2 L473.9 209.3 L475.3 209.4 L476.8 209.5 L478.2 209.7 L479.7 209.8 L481.1 209.9" fill="none" stroke="#3d3d3d" stroke-width="0.8"/>
<path d="M207.5 220.1h0M208.2 218.0h0M208.9 215.9h0M209.7 213.7h0M210.4 211.4h0M211.1 209.0h0M211.8 206.6h0M212.5 204.1h0M213.3 201.5h0M214.0 198.8h0M214.7 196.1h0M215.4 193.3h0M216.1 190.4h0M216.9 187.6h0M217.6 184.7h0M218.3 181.8h0M219.0 178.8h0M219.7 175.8h0M220.5 172.8h0M221.2 169.7h0M221.9 166.7h0M222.6 163.6h0M223.3 160.7h0M224.1 157.8h0M224.8 154.8h0M225.5 151.8h0M226.2 148.8h0M226.9 146.0h0M227.7 143.3h0M228.4 140.8h0M229.1 138.7h0M229.8 136.7h0M230.5 134.6h0M231.3 132.7h0M232.0 131.1h0M232.7 130.1h0M233.4 129.7h0M234.1 130.1h0M234.9 131.3h0M235.6 133.0h0M236.3 135.0h0M237.0 137.2h0M237.7 139.3h0M238.5 141.3h0M239.2 143.4h0M239.9 145.8h0M240.6 148.2h0M241.3 150.7h0M242.1 153.2h0M242.8 155.6h0M243.5 158.1h0M244.2 160.5h0M244.9 163.0h0M245.7 165.5h0M246.4 168.0h0M247.1 170.3h0M247.8 172.6h0M248.5 174.9h0M249.3 177.1h0M250.0 179.3h0M250.7 181.5h0M251.4 183.7h0M252.1 186.1h0M252.9 188.6h0M253.6 191.2h0M254.3 193.7h0M255.0 196.1h0M255.7 198.2h0M256.5 199.9h0M257.2 201.2h0M257.9 202.2h0M258.6 203.1h0M259.3 203.9h0M260.1 204.6h0M260.8 205.0h0M261.5 205.2h0M262.2 205.2h0M262.9 205.1h0M263.7 205.0h0M264.4 204.8h0M265.1 204.6h0M265.8 204.4h0M266.5 204.0h0M267.3 203.4h0M268.0 202.6h0M268.7 201.7h0M269.4 200.8h0M270.1 199.9h0M270.9 199.1h0M271.6 198.4h0M272.3 197.5h0M273.0 196.6h0M273.7 195.7h0M274.5 194.8h0M275.2 193.9h0M275.9 193.2h0M276.6 192.6h0M277.3 192.2h0M278.1 192.1h0M278.8 192.1h0M279.5 192.3h0M280.2 192.5h0M280.9 192.7h0M281.7 193.0h0M282.4 193.3h0M283.1 193.6h0M283.8 193.9h0M284.5 194.2h0M285.3 194.5h0M286.0 194.9h0M286.7 195.2h0M287.4 195.6h0M288.1 195.9h0M288.9 196.3h0M289.6 196.7h0M290.3 197.1h0M291.0 197.5h0M291.7 198.0h0M292.5 198.4h0M293.2 198.9h0M293.9 199.4h0M294.6 199.9h0M295.3 200.4h0M296.1 200.9h0M296.8 201.4h0M297.5 201.9h0M298.2 202.4h0M298.9 202.9h0M299.7 203.4h0M300.4 203.9h0M301.1 204.4h0M301.8 204.9h0M302.5 205.3h0M303.3 205.8h0M304.0 206.2h0M304.7 206.6h0M305.4 207.0h0M306.1 207.3h0M306.9 207.7h0M307.6 208.1h0M308.3 208.4h0M309.0 208.8h0M309.7 209.2h0M310.5 209.5h0M311.2 209.9h0M311.9 210.3h0M312.6 210.7h0M313.3 211.1h0M314.1 211.5h0M314.8 212.0h0M315.5 212.5h0M316.2 213.2h0M316.9 213.9h0M317.7 214.5h0M318.4 215.2h0M319.1 215.8h0M319.8 216.3h0M320.5 216.7h0M321.3 217.0h0M322.0 217.0h0M322.7 217.0h0M323.4 216.9h0M324.1 216.9h0M324.9 216.8h0M325.6 216.6h0M326.3 216.5h0M327.0 216.3h0M327.7 216.1h0M328.5 215.2h0M329.2 212.1h0M329.9 207.4h0M330.6 202.4h0M331.3 197.9h0M332.1 193.3h0M332.8 188.3h0M333.5 183.2h0M334.2 177.8h0M334.9 172.2h0M335.7 165.8h0M336.4 159.6h0M337.1 154.3h0M337.8 149.6h0M338.5 145.2h0M339.3 141.5h0M340.0 139.0h0M340.7 137.4h0M341.4 136.0h0M342.1 135.0h0M342.9 134.5h0M343.6 134.8h0M344.3 136.0h0M345.0 137.6h0M345.7 139.4h0M346.5 141.1h0M347.2 143.0h0M347.9 145.1h0M348.6 147.4h0M349.3 150.0h0M350.1 153.4h0M350.8 157.1h0M351.5 160.8h0M352.2 163.9h0M352.9 166.7h0M353.7 169.3h0M354.4 171.8h0M355.1 174.1h0M355.8 176.4h0M356.5 178.6h0M357.3 180.8h0M358.0 183.0h0M358.7 185.1h0M359.4 186.8h0M360.1 188.2h0M360.9 189.5h0M361.6 190.7h0M362.3 191.7h0M363.0 192.4h0M363.7 192.7h0M364.5 193.0h0M365.2 193.1h0M365.9 193.3h0M366.6 193.4h0M367.3 193.5h0M368.1 193.5h0M368.8 193.5h0M369.5 193.3h0M370.2 193.2h0M370.9 193.0h0M371.7 192.9h0M372.4 192.8h0M373.1 192.7h0M373.8 192.7h0M374.5 192.8h0M375.3 193.0h0M376.0 193.3h0M376.7 193.6h0M377.4 193.9h0M378.1 194.3h0M378.9 194.8h0M379.6 195.2h0M380.3 195.9h0M381.0 196.8h0M381.7 197.8h0M382.5 198.8h0M383.2 199.9h0M383.9 200.9h0M384.6 201.8h0M385.3 202.9h0M386.1 204.0h0M386.8 205.0h0M387.5 205.9h0M388.2 206.5h0M388.9 206.8h0M389.7 206.7h0M390.4 206.4h0M391.1 206.0h0M391.8 205.6h0M392.5 205.2h0M393.3 204.9h0M394.0 204.6h0M394.7 204.3h0M395.4 204.0h0M396.1 203.8h0M396.9 203.7h0M397.6 203.6h0M398.3 203.6h0M399.0 203.6h0M399.7 203.6h0M400.5 203.6h0M401.2 203.6h0M401.9 203.6h0M402.6 203.6h0M403.3 203.6h0M404.1 203.6h0M404.8 203.6h0M405.5 203.6h0M406.2 203.6h0M406.9 203.6h0M407.7 203.6h0M408.4 203.6h0M409.1 203.6h0M409.8 203.6h0M410.5 203.6h0M411.3 203.6h0M412.0 203.6h0M412.7 203.6h0M413.4 203.6h0M414.1 203.6h0M414.9 203.6h0M415.6 203.6h0M416.3 203.6h0M417.0 203.6h0M417.7 203.6h0M418.5 203.6h0M419.2 203.6h0M419.9 203.7h0M420.6 203.7h0M421.3 203.7h0M422.1 203.8h0M422.8 203.8h0M423.5 203.9h0M424.2 204.0h0M424.9 204.0h0M425.7 204.1h0M426.4 204.2h0M427.1 204.3h0M427.8 204.3h0M428.5 204.4h0M429.3 204.5h0M430.0 204.6h0M430.7 204.7h0M431.4 204.8h0M432.1 204.9h0M432.9 205.0h0M433.6 205.1h0M434.3 205.2h0M435.0 205.3h0M435.7 205.4h0M436.5 205.4h0M437.2 205.5h0M437.9 205.6h0M438.6 205.7h0M439.3 205.8h0M440.1 205.9h0M440.8 206.0h0M441.5 206.0h0M442.2 206.1h0M442.9 206.2h0M443.7 206.3h0M444.4 206.3h0M445.1 206.4h0M445.8 206.5h0M446.5 206.6h0M447.3 206.6h0M448.0 206.7h0M448.7 206.8h0M449.4 206.9h0M450.1 206.9h0M450.9 207.0h0M451.6 207.1h0M452.3 207.2h0M453.0 207.2h0M453.7 207.3h0M454.5 207.4h0M455.2 207.5h0M455.9 207.5h0M456.6 207.6h0M457.3 207.7h0M458.1 207.8h0M458.8 207.8h0M459.5 207.9h0M460.2 208.0h0M460.9 208.1h0M461.7 208.1h0M462.4 208.2h0M463.1 208.3h0M463.8 208.3h0M464.5 208.4h0M465.3 208.5h0M466.0 208.6h0M466.7 208.6h0M467.4 208.7h0M468.1 208.8h0M468.9 208.8h0M469.6 208.9h0M470.3 209.0h0M471.0 209.0h0M471.7 209.1h0M472.5 209.2h0M473.2 209.2h0M473.9 209.3h0M474.6 209.4h0M475.3 209.4h0M476.1 209.5h0M476.8 209.5h0M477.5 209.6h0M478.2 209.7h0M478.9 209.7h0M479.7 209.8h0M480.4 209.9h0M481.1 209.9h0M481.8 210.0h0" fill="none" stroke="#3d3d3d" stroke-width="3.0" stroke-linecap="round"/>
<rect x="200.5" y="12" width="288.8" height="232.5" fill="none" stroke="#666" stroke-width="1.5"/>
<path d="M228.3 244.5v-4M228.3 12v4M256.5 244.5v-2.5M256.5 12v2.5M284.6 244.5v-4M284.6 12v4M312.8 244.5v-2.5M312.8 12v2.5M340.9 244.5v-4M340.9 12v4M369.1 244.5v-2.5M369.1 12v2.5M397.3 244.5v-4M397.3 12v4M425.4 244.5v-2.5M425.4 12v2.5M453.6 244.5v-4M453.6 12v4M481.7 244.5v-2.5M481.7 12v2.5M200.5 244.5h4M489.3 244.5h-4M200.5 221.2h2.5M489.3 221.2h-2.5M200.5 198.0h4M489.3 198.0h-4M200.5 174.8h2.5M489.3 174.8h-2.5M200.5 151.5h4M489.3 151.5h-4M200.5 128.2h2.5M489.3 128.2h-2.5M200.5 105.0h4M489.3 105.0h-4M200.5 81.8h2.5M489.3 81.8h-2.5M200.5 58.5h4M489.3 58.5h-4M200.5 35.2h2.5M489.3 35.2h-2.5M200.5 12.0h4M489.3 12.0h-4" stroke="#555" stroke-width="1.2" fill="none"/>
<text x="227.9" y="259" text-anchor="middle" class="tk">3.7</text>
<text x="284.2" y="259" text-anchor="middle" class="tk">4.1</text>
<text x="340.5" y="259" text-anchor="middle" class="tk">4.5</text>
<text x="396.9" y="259" text-anchor="middle" class="tk">4.9</text>
<text x="453.2" y="259" text-anchor="middle" class="tk">5.3</text>
<text x="197.6" y="249.8" text-anchor="end" class="tk">0.00</text>
<text x="197.6" y="203.3" text-anchor="end" class="tk">0.03</text>
<text x="197.6" y="156.8" text-anchor="end" class="tk">0.06</text>
<text x="197.6" y="110.3" text-anchor="end" class="tk">0.09</text>
<text x="197.6" y="63.8" text-anchor="end" class="tk">0.12</text>
<text x="197.6" y="17.3" text-anchor="end" class="tk">0.15</text>
<text x="344.4" y="274.5" text-anchor="middle" class="ax">Wavelength(μm)</text>
<text transform="translate(162.8 128.5) rotate(-90)" text-anchor="middle" class="ax">Reflectance</text>
<text x="105.5" y="26" class="laba">(a)</text>
<text x="239.3" y="237" text-anchor="middle" class="ch" fill="#f4c025">CH A</text>
<text x="381.8" y="237" text-anchor="middle" class="ch" fill="#29b0e8">CH B</text>
<path d="M270.8 25.0H296.8" stroke="#3d3d3d" stroke-width="1" opacity="0.8"/><circle cx="283.8" cy="25.0" r="1.4" fill="#3d3d3d"/>
<text x="301" y="30.2" class="lg">0.00</text>
<path d="M270.8 43.9H296.8" stroke="#ec2f26" stroke-width="1" opacity="0.8"/><circle cx="283.8" cy="43.9" r="1.4" fill="#ec2f26"/>
<text x="301" y="49.1" class="lg">0.25</text>
<path d="M270.8 62.7H296.8" stroke="#1e62d8" stroke-width="1" opacity="0.8"/><circle cx="283.8" cy="62.7" r="1.4" fill="#1e62d8"/>
<text x="301" y="67.9" class="lg">0.50</text>
<path d="M270.8 81.6H296.8" stroke="#2a9f4c" stroke-width="1" opacity="0.8"/><circle cx="283.8" cy="81.6" r="1.4" fill="#2a9f4c"/>
<text x="301" y="86.8" class="lg">0.75</text>
<path d="M270.8 100.4H296.8" stroke="#9d62e2" stroke-width="1" opacity="0.8"/><circle cx="283.8" cy="100.4" r="1.4" fill="#9d62e2"/>
<text x="301" y="105.6" class="lg">1.00</text>
<text x="238.3" y="27" class="lm" fill="#f3a51c">λ<tspan class="sub" dy="4.6">0</tspan></text>
<text x="334.5" y="128.5" class="lm" fill="#16a6e6">λ<tspan class="sub" dy="4.6">1</tspan></text>
<text x="347" y="121.5" class="lm" fill="#16a6e6">λ<tspan class="sub" dy="4.6">2</tspan></text>
<text x="363.3" y="79.5" class="lm" fill="#16a6e6">λ<tspan class="sub" dy="4.6">3</tspan></text>
<text x="377.6" y="63.5" class="lm" fill="#16a6e6">λ<tspan class="sub" dy="4.6">4</tspan></text>
<text x="403.8" y="68.5" class="lm" fill="#16a6e6">λ<tspan class="sub" dy="4.6">5</tspan></text>
<rect x="7.2" y="339.1" width="198.5" height="202.5" rx="30" fill="none" stroke="#4e6a99" stroke-width="1.9" stroke-dasharray="6.3 4.8"/>
<rect x="219.3" y="340.5" width="428.7" height="202.2" rx="30" fill="none" stroke="#4e6a99" stroke-width="1.9" stroke-dasharray="6.3 4.8"/>
<rect x="7.2" y="594.3" width="640.8" height="180.2" rx="26" fill="none" stroke="#4e6a99" stroke-width="1.9" stroke-dasharray="6.3 4.8"/>
<clipPath id="cb"><rect x="17.2" y="356" width="176.4" height="168.9"/></clipPath>
<g clip-path="url(#cb)"><g filter="url(#jet)">
<rect x="7.199999999999999" y="346" width="196.4" height="188.9" fill="rgb(5,5,5)"/>
<ellipse cx="104" cy="360.5" rx="86" ry="3.5" fill="rgb(71,71,71)" filter="url(#bl2)"/>
<ellipse cx="32.0" cy="360.5" rx="8.8" ry="5.6" fill="url(#g18)"/>
<ellipse cx="49.9" cy="360.5" rx="8.8" ry="5.6" fill="url(#g19)"/>
<ellipse cx="67.8" cy="360.5" rx="8.8" ry="5.6" fill="url(#g20)"/>
<ellipse cx="85.7" cy="360.5" rx="8.8" ry="5.6" fill="url(#g20)"/>
<ellipse cx="103.6" cy="360.5" rx="8.8" ry="5.6" fill="url(#g21)"/>
<ellipse cx="121.5" cy="360.5" rx="8.8" ry="5.6" fill="url(#g20)"/>
<ellipse cx="139.4" cy="360.5" rx="8.8" ry="5.6" fill="url(#g19)"/>
<ellipse cx="157.3" cy="360.5" rx="8.8" ry="5.6" fill="url(#g18)"/>
<ellipse cx="175.2" cy="360.5" rx="8.8" ry="5.6" fill="url(#g17)"/>
<ellipse cx="104" cy="377" rx="86" ry="2.5" fill="rgb(66,66,66)" filter="url(#bl2)"/>
<ellipse cx="32.0" cy="377" rx="11.9" ry="9.4" fill="url(#g27)" transform="rotate(35 32.0 377)"/>
<ellipse cx="49.9" cy="377" rx="11.9" ry="9.4" fill="url(#g29)" transform="rotate(35 49.9 377)"/>
<ellipse cx="67.8" cy="377" rx="11.9" ry="9.4" fill="url(#g36)" transform="rotate(35 67.8 377)"/>
<ellipse cx="85.69999999999999" cy="377" rx="11.9" ry="9.4" fill="url(#g38)" transform="rotate(35 85.69999999999999 377)"/>
<ellipse cx="103.6" cy="377" rx="11.9" ry="9.4" fill="url(#g38)" transform="rotate(35 103.6 377)"/>
<ellipse cx="121.5" cy="377" rx="11.9" ry="9.4" fill="url(#g36)" transform="rotate(35 121.5 377)"/>
<ellipse cx="139.39999999999998" cy="377" rx="11.9" ry="9.4" fill="url(#g32)" transform="rotate(35 139.39999999999998 377)"/>
<ellipse cx="157.29999999999998" cy="377" rx="11.9" ry="9.4" fill="url(#g28)" transform="rotate(35 157.29999999999998 377)"/>
<ellipse cx="175.2" cy="377" rx="11.9" ry="9.4" fill="url(#g25)" transform="rotate(35 175.2 377)"/>
<ellipse cx="33.0" cy="396.5" rx="8.8" ry="8.8" fill="url(#g19)"/>
<ellipse cx="50.9" cy="396.5" rx="8.8" ry="8.8" fill="url(#g19)"/>
<ellipse cx="68.8" cy="396.5" rx="8.8" ry="8.8" fill="url(#g23)"/>
<ellipse cx="86.69999999999999" cy="396.5" rx="8.8" ry="8.8" fill="url(#g28)"/>
<ellipse cx="104.6" cy="396.5" rx="8.8" ry="8.8" fill="url(#g31)"/>
<ellipse cx="122.5" cy="396.5" rx="8.8" ry="8.8" fill="url(#g28)"/>
<ellipse cx="140.39999999999998" cy="396.5" rx="8.8" ry="8.8" fill="url(#g21)"/>
<ellipse cx="158.29999999999998" cy="396.5" rx="8.8" ry="8.8" fill="url(#g15)"/>
<ellipse cx="176.2" cy="396.5" rx="8.8" ry="8.8" fill="url(#g11)"/>
<ellipse cx="104" cy="416.5" rx="86" ry="2.5" fill="rgb(66,66,66)" filter="url(#bl2)"/>
<ellipse cx="32.0" cy="416.5" rx="11.9" ry="9.4" fill="url(#g23)" transform="rotate(35 32.0 416.5)"/>
<ellipse cx="49.9" cy="416.5" rx="11.9" ry="9.4" fill="url(#g25)" transform="rotate(35 49.9 416.5)"/>
<ellipse cx="67.8" cy="416.5" rx="11.9" ry="9.4" fill="url(#g31)" transform="rotate(35 67.8 416.5)"/>
<ellipse cx="85.69999999999999" cy="416.5" rx="11.9" ry="9.4" fill="url(#g36)" transform="rotate(35 85.69999999999999 416.5)"/>
<ellipse cx="103.6" cy="416.5" rx="11.9" ry="9.4" fill="url(#g37)" transform="rotate(35 103.6 416.5)"/>
<ellipse cx="121.5" cy="416.5" rx="11.9" ry="9.4" fill="url(#g36)" transform="rotate(35 121.5 416.5)"/>
<ellipse cx="139.39999999999998" cy="416.5" rx="11.9" ry="9.4" fill="url(#g29)" transform="rotate(35 139.39999999999998 416.5)"/>
<ellipse cx="157.29999999999998" cy="416.5" rx="11.9" ry="9.4" fill="url(#g20)" transform="rotate(35 157.29999999999998 416.5)"/>
<ellipse cx="175.2" cy="416.5" rx="11.9" ry="9.4" fill="url(#g19)" transform="rotate(35 175.2 416.5)"/>
<ellipse cx="104" cy="436.5" rx="86" ry="5" fill="rgb(102,102,102)" filter="url(#bl2.5)"/>
<ellipse cx="32.0" cy="436.2" rx="15.0" ry="11.9" fill="url(#g43)" transform="rotate(20 32.0 436.2)"/>
<ellipse cx="49.9" cy="436.2" rx="15.0" ry="11.9" fill="url(#g42)" transform="rotate(20 49.9 436.2)"/>
<ellipse cx="67.8" cy="436.2" rx="15.0" ry="11.9" fill="url(#g45)" transform="rotate(20 67.8 436.2)"/>
<ellipse cx="85.69999999999999" cy="436.2" rx="15.0" ry="11.9" fill="url(#g48)" transform="rotate(20 85.69999999999999 436.2)"/>
<ellipse cx="103.6" cy="436.2" rx="15.0" ry="11.9" fill="url(#g49)" transform="rotate(20 103.6 436.2)"/>
<ellipse cx="121.5" cy="436.2" rx="15.0" ry="11.9" fill="url(#g48)" transform="rotate(20 121.5 436.2)"/>
<ellipse cx="139.39999999999998" cy="436.2" rx="15.0" ry="11.9" fill="url(#g45)" transform="rotate(20 139.39999999999998 436.2)"/>
<ellipse cx="157.29999999999998" cy="436.2" rx="15.0" ry="11.9" fill="url(#g41)" transform="rotate(20 157.29999999999998 436.2)"/>
<ellipse cx="175.2" cy="436.2" rx="15.0" ry="11.9" fill="url(#g41)" transform="rotate(20 175.2 436.2)"/>
<rect x="20" y="446" width="167" height="75" fill="rgb(102,102,102)" filter="url(#bl2.5)"/>
<ellipse cx="32.0" cy="484" rx="5.5" ry="36" fill="rgb(115,115,115)" filter="url(#bl2.5)"/>
<ellipse cx="49.9" cy="484" rx="5.5" ry="36" fill="rgb(117,117,117)" filter="url(#bl2.5)"/>
<ellipse cx="67.8" cy="484" rx="5.5" ry="36" fill="rgb(140,140,140)" filter="url(#bl2.5)"/>
<ellipse cx="85.69999999999999" cy="484" rx="5.5" ry="36" fill="rgb(163,163,163)" filter="url(#bl2.5)"/>
<ellipse cx="103.6" cy="484" rx="5.5" ry="36" fill="rgb(168,168,168)" filter="url(#bl2.5)"/>
<ellipse cx="121.5" cy="484" rx="5.5" ry="36" fill="rgb(163,163,163)" filter="url(#bl2.5)"/>
<ellipse cx="139.39999999999998" cy="484" rx="5.5" ry="36" fill="rgb(140,140,140)" filter="url(#bl2.5)"/>
<ellipse cx="157.29999999999998" cy="484" rx="5.5" ry="36" fill="rgb(115,115,115)" filter="url(#bl2.5)"/>
<ellipse cx="175.2" cy="484" rx="5.5" ry="36" fill="rgb(102,102,102)" filter="url(#bl2.5)"/>
<ellipse cx="41.0" cy="448" rx="5.6" ry="4.4" fill="url(#g2)"/>
<path d="M38.8 452.0 L43.2 461.0 L38.8 470.0 L43.2 479.0 L38.8 488.0 L43.2 497.0 L38.8 506.0 L43.2 515.0" fill="none" stroke="rgb(43,43,43)" stroke-width="5" stroke-linecap="round" stroke-linejoin="round" filter="url(#bl2)"/>
<ellipse cx="58.9" cy="448" rx="5.6" ry="4.4" fill="url(#g2)"/>
<path d="M56.7 452.0 L61.1 461.0 L56.7 470.0 L61.1 479.0 L56.7 488.0 L61.1 497.0 L56.7 506.0 L61.1 515.0" fill="none" stroke="rgb(43,43,43)" stroke-width="5" stroke-linecap="round" stroke-linejoin="round" filter="url(#bl2)"/>
<ellipse cx="76.8" cy="448" rx="5.6" ry="4.4" fill="url(#g2)"/>
<path d="M74.6 452.0 L79.0 461.0 L74.6 470.0 L79.0 479.0 L74.6 488.0 L79.0 497.0 L74.6 506.0 L79.0 515.0" fill="none" stroke="rgb(43,43,43)" stroke-width="5" stroke-linecap="round" stroke-linejoin="round" filter="url(#bl2)"/>
<ellipse cx="94.69999999999999" cy="448" rx="5.6" ry="4.4" fill="url(#g2)"/>
<path d="M92.5 452.0 L96.9 461.0 L92.5 470.0 L96.9 479.0 L92.5 488.0 L96.9 497.0 L92.5 506.0 L96.9 515.0" fill="none" stroke="rgb(43,43,43)" stroke-width="5" stroke-linecap="round" stroke-linejoin="round" filter="url(#bl2)"/>
<ellipse cx="112.6" cy="448" rx="5.6" ry="4.4" fill="url(#g2)"/>
<path d="M110.4 452.0 L114.8 461.0 L110.4 470.0 L114.8 479.0 L110.4 488.0 L114.8 497.0 L110.4 506.0 L114.8 515.0" fill="none" stroke="rgb(43,43,43)" stroke-width="5" stroke-linecap="round" stroke-linejoin="round" filter="url(#bl2)"/>
<ellipse cx="130.5" cy="448" rx="5.6" ry="4.4" fill="url(#g2)"/>
<path d="M128.3 452.0 L132.7 461.0 L128.3 470.0 L132.7 479.0 L128.3 488.0 L132.7 497.0 L128.3 506.0 L132.7 515.0" fill="none" stroke="rgb(43,43,43)" stroke-width="5" stroke-linecap="round" stroke-linejoin="round" filter="url(#bl2)"/>
<ellipse cx="148.39999999999998" cy="448" rx="5.6" ry="4.4" fill="url(#g2)"/>
<path d="M146.2 452.0 L150.6 461.0 L146.2 470.0 L150.6 479.0 L146.2 488.0 L150.6 497.0 L146.2 506.0 L150.6 515.0" fill="none" stroke="rgb(43,43,43)" stroke-width="5" stroke-linecap="round" stroke-linejoin="round" filter="url(#bl2)"/>
<ellipse cx="166.29999999999998" cy="448" rx="5.6" ry="4.4" fill="url(#g2)"/>
<path d="M164.1 452.0 L168.5 461.0 L164.1 470.0 L168.5 479.0 L164.1 488.0 L168.5 497.0 L164.1 506.0 L168.5 515.0" fill="none" stroke="rgb(43,43,43)" stroke-width="5" stroke-linecap="round" stroke-linejoin="round" filter="url(#bl2)"/>
<ellipse cx="184.2" cy="448" rx="5.6" ry="4.4" fill="url(#g2)"/>
<path d="M182.0 452.0 L186.4 461.0 L182.0 470.0 L186.4 479.0 L182.0 488.0 L186.4 497.0 L182.0 506.0 L186.4 515.0" fill="none" stroke="rgb(43,43,43)" stroke-width="5" stroke-linecap="round" stroke-linejoin="round" filter="url(#bl2)"/>
<ellipse cx="85.69999999999999" cy="457" rx="6.2" ry="7.5" fill="url(#g37)"/>
<ellipse cx="103.6" cy="457" rx="6.2" ry="7.5" fill="url(#g37)"/>
<ellipse cx="121.5" cy="457" rx="6.2" ry="7.5" fill="url(#g33)"/>
<ellipse cx="85.69999999999999" cy="477" rx="6.2" ry="8.8" fill="url(#g35)"/>
<ellipse cx="103.6" cy="477" rx="6.2" ry="8.8" fill="url(#g35)"/>
<ellipse cx="121.5" cy="477" rx="6.2" ry="8.8" fill="url(#g33)"/>
<ellipse cx="85.69999999999999" cy="499" rx="6.2" ry="8.8" fill="url(#g35)"/>
<ellipse cx="103.6" cy="499" rx="6.2" ry="8.8" fill="url(#g36)"/>
<ellipse cx="121.5" cy="499" rx="6.2" ry="8.8" fill="url(#g32)"/>
<rect x="17" y="521.5" width="177" height="5" fill="rgb(20,20,20)" filter="url(#bl1.5)"/>
<rect x="186" y="356" width="10" height="170" fill="rgb(5,5,5)" filter="url(#bl2)"/>
</g></g>
<path d="M21.6 361.4H187.6M21.6 391.5H187.6M21.6 424.9H187.6M21.6 459H187.6M21.6 492.9H187.6M21.6 519.5H187.6M21.6 361.4V519.5M187.6 361.4V519.5" stroke="#fff" stroke-width="1.6" stroke-dasharray="5.5 4.5" fill="none" opacity="0.95"/>
<text x="188.5" y="388.4" text-anchor="end" class="pc">15%</text>
<text x="188.5" y="420.2" text-anchor="end" class="pc">10%</text>
<text x="188.5" y="452.9" text-anchor="end" class="pc">29%</text>
<text x="188.5" y="488.8" text-anchor="end" class="pc">23%</text>
<text x="188.5" y="514.4" text-anchor="end" class="pc">23%</text>
<clipPath id="cc"><rect x="234.8" y="356" width="174" height="168.2"/></clipPath>
<g clip-path="url(#cc)"><g filter="url(#jet)">
<rect x="224.8" y="346" width="194" height="188.2" fill="rgb(5,5,5)"/>
<ellipse cx="247.4" cy="383.2" rx="8.8" ry="6.2" fill="url(#g10)"/>
<ellipse cx="264.5" cy="383.2" rx="8.8" ry="6.2" fill="url(#g13)"/>
<ellipse cx="285.5" cy="383.2" rx="8.8" ry="6.2" fill="url(#g8)"/>
<ellipse cx="296" cy="383.2" rx="8.8" ry="6.2" fill="url(#g8)"/>
<ellipse cx="317" cy="383.2" rx="8.8" ry="6.2" fill="url(#g12)"/>
<ellipse cx="335.5" cy="383.2" rx="8.8" ry="6.2" fill="url(#g8)"/>
<ellipse cx="356.6" cy="383.2" rx="8.8" ry="6.2" fill="url(#g7)"/>
<ellipse cx="372.4" cy="383.2" rx="8.8" ry="6.2" fill="url(#g9)"/>
<ellipse cx="264.5" cy="410.8" rx="7.5" ry="8.8" fill="url(#g10)"/>
<ellipse cx="317" cy="410.8" rx="7.5" ry="8.8" fill="url(#g9)"/>
<ellipse cx="386.8" cy="410.8" rx="7.5" ry="8.8" fill="url(#g13)"/>
<ellipse cx="246" cy="435.5" rx="7.5" ry="7.5" fill="url(#g9)"/>
<ellipse cx="256" cy="435.5" rx="7.5" ry="7.5" fill="url(#g10)"/>
<ellipse cx="264.5" cy="435.5" rx="7.5" ry="7.5" fill="url(#g13)"/>
<ellipse cx="285.5" cy="435.5" rx="7.5" ry="7.5" fill="url(#g8)"/>
<ellipse cx="317" cy="435.5" rx="7.5" ry="7.5" fill="url(#g13)"/>
<ellipse cx="335.5" cy="435.5" rx="7.5" ry="7.5" fill="url(#g8)"/>
<ellipse cx="356.6" cy="435.5" rx="7.5" ry="7.5" fill="url(#g7)"/>
<ellipse cx="386.8" cy="435.5" rx="7.5" ry="7.5" fill="url(#g15)"/>
<ellipse cx="320" cy="468.3" rx="80" ry="5" fill="rgb(41,41,41)" filter="url(#bl2.5)"/>
<ellipse cx="250" cy="468.3" rx="10.0" ry="10.0" fill="url(#g18)"/>
<ellipse cx="264" cy="468.3" rx="10.0" ry="10.0" fill="url(#g20)"/>
<ellipse cx="284.5" cy="468.3" rx="10.0" ry="10.0" fill="url(#g11)"/>
<ellipse cx="299" cy="468.3" rx="10.0" ry="10.0" fill="url(#g10)"/>
<ellipse cx="317.8" cy="468.3" rx="10.0" ry="10.0" fill="url(#g19)"/>
<ellipse cx="335" cy="468.3" rx="10.0" ry="10.0" fill="url(#g12)"/>
<ellipse cx="352.4" cy="468.3" rx="10.0" ry="10.0" fill="url(#g10)"/>
<ellipse cx="371" cy="468.3" rx="10.0" ry="10.0" fill="url(#g18)"/>
<ellipse cx="388" cy="468.3" rx="10.0" ry="10.0" fill="url(#g21)"/>
<ellipse cx="264" cy="478" rx="2.5" ry="7" fill="rgb(64,64,64)" filter="url(#bl2)"/>
<ellipse cx="319" cy="502" rx="79" ry="13" fill="rgb(97,97,97)" filter="url(#bl3)"/>
<ellipse cx="319" cy="503.5" rx="76" ry="7" fill="rgb(128,128,128)" filter="url(#bl3)"/>
<ellipse cx="250" cy="497" rx="6.9" ry="10.0" fill="url(#g22)"/>
<ellipse cx="250" cy="504.5" rx="9.4" ry="8.1" fill="url(#g31)"/>
<ellipse cx="264" cy="497" rx="6.9" ry="10.0" fill="url(#g40)"/>
<ellipse cx="264" cy="504.5" rx="9.4" ry="8.1" fill="url(#g48)"/>
<ellipse cx="282.5" cy="497" rx="6.9" ry="10.0" fill="url(#g36)"/>
<ellipse cx="282.5" cy="504.5" rx="9.4" ry="8.1" fill="url(#g45)"/>
<ellipse cx="299.2" cy="497" rx="6.9" ry="10.0" fill="url(#g31)"/>
<ellipse cx="299.2" cy="504.5" rx="9.4" ry="8.1" fill="url(#g40)"/>
<ellipse cx="317.8" cy="497" rx="6.9" ry="10.0" fill="url(#g30)"/>
<ellipse cx="317.8" cy="504.5" rx="9.4" ry="8.1" fill="url(#g39)"/>
<ellipse cx="334.3" cy="497" rx="6.9" ry="10.0" fill="url(#g30)"/>
<ellipse cx="334.3" cy="504.5" rx="9.4" ry="8.1" fill="url(#g39)"/>
<ellipse cx="352.4" cy="497" rx="6.9" ry="10.0" fill="url(#g36)"/>
<ellipse cx="352.4" cy="504.5" rx="9.4" ry="8.1" fill="url(#g45)"/>
<ellipse cx="370.5" cy="497" rx="6.9" ry="10.0" fill="url(#g39)"/>
<ellipse cx="370.5" cy="504.5" rx="9.4" ry="8.1" fill="url(#g48)"/>
<ellipse cx="388" cy="497" rx="6.9" ry="10.0" fill="url(#g34)"/>
<ellipse cx="388" cy="504.5" rx="9.4" ry="8.1" fill="url(#g42)"/>
<ellipse cx="256" cy="515.5" rx="5.0" ry="4.4" fill="url(#g8)"/>
<ellipse cx="274" cy="515.5" rx="5.0" ry="4.4" fill="url(#g8)"/>
<ellipse cx="290.5" cy="515.5" rx="5.0" ry="4.4" fill="url(#g8)"/>
<ellipse cx="308.5" cy="515.5" rx="5.0" ry="4.4" fill="url(#g8)"/>
<ellipse cx="326" cy="515.5" rx="5.0" ry="4.4" fill="url(#g8)"/>
<ellipse cx="343" cy="515.5" rx="5.0" ry="4.4" fill="url(#g8)"/>
<ellipse cx="361" cy="515.5" rx="5.0" ry="4.4" fill="url(#g8)"/>
<ellipse cx="379" cy="515.5" rx="5.0" ry="4.4" fill="url(#g8)"/>
</g></g>
<path d="M239.3 361.6H404.8M239.3 392.2H404.8M239.3 425.4H404.8M239.3 458.8H404.8M239.3 493.2H404.8M239.3 519.2H404.8M239.3 361.6V519.2M404.8 361.6V519.2" stroke="#fff" stroke-width="1.6" stroke-dasharray="5.5 4.5" fill="none" opacity="0.95"/>
<text x="406.0" y="388.3" text-anchor="end" class="pc">9%</text>
<text x="406.0" y="419.8" text-anchor="end" class="pc">10%</text>
<text x="406.0" y="453" text-anchor="end" class="pc">12%</text>
<text x="406.0" y="487.2" text-anchor="end" class="pc">29%</text>
<text x="406.0" y="515.4" text-anchor="end" class="pc">40%</text>
<clipPath id="cd"><rect x="453.6" y="354.9" width="173.4" height="166.4"/></clipPath>
<g clip-path="url(#cd)"><g filter="url(#jet)">
<rect x="443.6" y="344.9" width="193.4" height="186.4" fill="rgb(5,5,5)"/>
<ellipse cx="467.4" cy="377.1" rx="8.8" ry="4.4" fill="url(#g8)"/>
<ellipse cx="484.5" cy="377.1" rx="8.8" ry="4.4" fill="url(#g10)"/>
<ellipse cx="501.6" cy="377.1" rx="8.8" ry="4.4" fill="url(#g10)"/>
<ellipse cx="517.4" cy="377.1" rx="8.8" ry="4.4" fill="url(#g8)"/>
<ellipse cx="535.8" cy="377.1" rx="8.8" ry="4.4" fill="url(#g9)"/>
<ellipse cx="552.9" cy="377.1" rx="8.8" ry="4.4" fill="url(#g9)"/>
<ellipse cx="572.6" cy="377.1" rx="8.8" ry="4.4" fill="url(#g10)"/>
<ellipse cx="588.4" cy="377.1" rx="8.8" ry="4.4" fill="url(#g8)"/>
<ellipse cx="602.9" cy="377.1" rx="8.8" ry="4.4" fill="url(#g9)"/>
<ellipse cx="484.5" cy="400.8" rx="6.2" ry="3.8" fill="url(#g6)"/>
<ellipse cx="501.6" cy="400.8" rx="6.2" ry="3.8" fill="url(#g6)"/>
<ellipse cx="535.8" cy="400.8" rx="6.2" ry="3.8" fill="url(#g6)"/>
<ellipse cx="552.9" cy="400.8" rx="6.2" ry="3.8" fill="url(#g6)"/>
<ellipse cx="572.6" cy="400.8" rx="6.2" ry="3.8" fill="url(#g6)"/>
<ellipse cx="602.9" cy="400.8" rx="6.2" ry="3.8" fill="url(#g8)"/>
<ellipse cx="483.2" cy="429.2" rx="10.0" ry="8.8" fill="url(#g20)"/>
<ellipse cx="500.3" cy="429.2" rx="10.0" ry="8.8" fill="url(#g28)"/>
<ellipse cx="518.7" cy="429.2" rx="10.0" ry="8.8" fill="url(#g20)"/>
<ellipse cx="535.8" cy="429.2" rx="10.0" ry="8.8" fill="url(#g11)"/>
<ellipse cx="552.9" cy="429.2" rx="10.0" ry="8.8" fill="url(#g12)"/>
<ellipse cx="570" cy="429.2" rx="10.0" ry="8.8" fill="url(#g28)"/>
<ellipse cx="587" cy="429.2" rx="10.0" ry="8.8" fill="url(#g26)"/>
<ellipse cx="604" cy="429.2" rx="10.0" ry="8.8" fill="url(#g16)"/>
<ellipse cx="468.7" cy="450" rx="10.0" ry="8.8" fill="url(#g9)"/>
<ellipse cx="483.2" cy="450" rx="10.0" ry="8.8" fill="url(#g22)"/>
<ellipse cx="500.3" cy="450" rx="10.0" ry="8.8" fill="url(#g27)"/>
<ellipse cx="517.4" cy="450" rx="10.0" ry="8.8" fill="url(#g20)"/>
<ellipse cx="535.8" cy="450" rx="10.0" ry="8.8" fill="url(#g15)"/>
<ellipse cx="552.9" cy="450" rx="10.0" ry="8.8" fill="url(#g18)"/>
<ellipse cx="570" cy="450" rx="10.0" ry="8.8" fill="url(#g26)"/>
<ellipse cx="587" cy="450" rx="10.0" ry="8.8" fill="url(#g24)"/>
<ellipse cx="604" cy="450" rx="10.0" ry="8.8" fill="url(#g11)"/>
<ellipse cx="537" cy="472.6" rx="78" ry="7" fill="rgb(107,107,107)" filter="url(#bl3)"/>
<ellipse cx="467.4" cy="472.6" rx="11.9" ry="9.4" fill="url(#g21)"/>
<ellipse cx="483.2" cy="472.6" rx="11.9" ry="9.4" fill="url(#g45)"/>
<ellipse cx="500.3" cy="472.6" rx="11.9" ry="9.4" fill="url(#g45)"/>
<ellipse cx="517.4" cy="472.6" rx="11.9" ry="9.4" fill="url(#g43)"/>
<ellipse cx="535.8" cy="472.6" rx="11.9" ry="9.4" fill="url(#g40)"/>
<ellipse cx="552.9" cy="472.6" rx="11.9" ry="9.4" fill="url(#g40)"/>
<ellipse cx="570.8" cy="472.6" rx="11.9" ry="9.4" fill="url(#g48)"/>
<ellipse cx="588.4" cy="472.6" rx="11.9" ry="9.4" fill="url(#g44)"/>
<ellipse cx="604.2" cy="472.6" rx="11.9" ry="9.4" fill="url(#g34)"/>
<ellipse cx="457" cy="504" rx="10.0" ry="6.9" fill="url(#g11)"/>
<ellipse cx="474" cy="504" rx="10.0" ry="6.9" fill="url(#g18)"/>
<ellipse cx="492.4" cy="504" rx="10.0" ry="6.9" fill="url(#g11)"/>
<ellipse cx="509.5" cy="504" rx="10.0" ry="6.9" fill="url(#g17)"/>
<ellipse cx="526.6" cy="504" rx="10.0" ry="6.9" fill="url(#g11)"/>
<ellipse cx="543.7" cy="504" rx="10.0" ry="6.9" fill="url(#g17)"/>
<ellipse cx="560.8" cy="504" rx="10.0" ry="6.9" fill="url(#g17)"/>
<ellipse cx="579" cy="504" rx="10.0" ry="6.9" fill="url(#g13)"/>
<ellipse cx="597.6" cy="504" rx="10.0" ry="6.9" fill="url(#g18)"/>
<ellipse cx="612" cy="504" rx="10.0" ry="6.9" fill="url(#g18)"/>
</g></g>
<path d="M457.6 359.8H624.1M457.6 390.7H624.1M457.6 424.2H624.1M457.6 457.4H624.1M457.6 492H624.1M457.6 517.5H624.1M457.6 359.8V517.5M624.1 359.8V517.5" stroke="#fff" stroke-width="1.6" stroke-dasharray="5.5 4.5" fill="none" opacity="0.95"/>
<text x="623.5" y="386.4" text-anchor="end" class="pc">9%</text>
<text x="623.5" y="420.2" text-anchor="end" class="pc">10%</text>
<text x="623.5" y="452.9" text-anchor="end" class="pc">20%</text>
<text x="623.5" y="488.8" text-anchor="end" class="pc">37%</text>
<text x="623.5" y="514.4" text-anchor="end" class="pc">24%</text>
<clipPath id="ce"><rect x="20.1" y="602.5" width="169.9" height="162.9"/></clipPath>
<g clip-path="url(#ce)"><g filter="url(#jet)">
<rect x="10.100000000000001" y="592.5" width="189.9" height="182.9" fill="rgb(5,5,5)"/>
<ellipse cx="106" cy="623.5" rx="82" ry="6" fill="rgb(61,61,61)" filter="url(#bl3)"/>
<ellipse cx="35.5" cy="623.5" rx="10.0" ry="7.5" fill="url(#g17)"/>
<ellipse cx="52" cy="623.5" rx="10.0" ry="7.5" fill="url(#g15)"/>
<ellipse cx="68.8" cy="623.5" rx="10.0" ry="7.5" fill="url(#g16)"/>
<ellipse cx="85" cy="623.5" rx="10.0" ry="7.5" fill="url(#g15)"/>
<ellipse cx="102.1" cy="623.5" rx="10.0" ry="7.5" fill="url(#g17)"/>
<ellipse cx="118" cy="623.5" rx="10.0" ry="7.5" fill="url(#g15)"/>
<ellipse cx="135.4" cy="623.5" rx="10.0" ry="7.5" fill="url(#g16)"/>
<ellipse cx="152" cy="623.5" rx="10.0" ry="7.5" fill="url(#g15)"/>
<ellipse cx="168.7" cy="623.5" rx="10.0" ry="7.5" fill="url(#g13)"/>
<ellipse cx="100" cy="650" rx="80" ry="4.5" fill="rgb(61,61,61)" filter="url(#bl2.5)"/>
<ellipse cx="32.5" cy="650" rx="8.8" ry="8.8" fill="url(#g18)"/>
<ellipse cx="48.7" cy="650" rx="8.8" ry="8.8" fill="url(#g19)"/>
<ellipse cx="66.8" cy="650" rx="8.8" ry="8.8" fill="url(#g25)"/>
<ellipse cx="84.8" cy="650" rx="8.8" ry="8.8" fill="url(#g18)"/>
<ellipse cx="100.4" cy="650" rx="8.8" ry="8.8" fill="url(#g13)"/>
<ellipse cx="116.2" cy="650" rx="8.8" ry="8.8" fill="url(#g18)"/>
<ellipse cx="136.2" cy="650" rx="8.8" ry="8.8" fill="url(#g25)"/>
<ellipse cx="153.6" cy="650" rx="8.8" ry="8.8" fill="url(#g23)"/>
<ellipse cx="169.8" cy="650" rx="8.8" ry="8.8" fill="url(#g12)"/>
<ellipse cx="66.8" cy="643" rx="7.5" ry="7.5" fill="url(#g20)"/>
<ellipse cx="150" cy="643" rx="7.5" ry="7.5" fill="url(#g17)"/>
<rect x="24" y="668" width="158" height="52" fill="rgb(87,87,87)" filter="url(#bl3)"/>
<rect x="20" y="721" width="170" height="5" fill="rgb(0,0,0)" filter="url(#bl2)"/>
<ellipse cx="31.7" cy="676.5" rx="8.8" ry="12.5" fill="url(#g28)"/>
<ellipse cx="48.7" cy="676.5" rx="8.8" ry="12.5" fill="url(#g46)"/>
<ellipse cx="66.1" cy="676.5" rx="8.8" ry="12.5" fill="url(#g48)"/>
<ellipse cx="83" cy="676.5" rx="8.8" ry="12.5" fill="url(#g45)"/>
<ellipse cx="100.4" cy="676.5" rx="8.8" ry="12.5" fill="url(#g40)"/>
<ellipse cx="117.5" cy="676.5" rx="8.8" ry="12.5" fill="url(#g42)"/>
<ellipse cx="134.9" cy="676.5" rx="8.8" ry="12.5" fill="url(#g48)"/>
<ellipse cx="151.7" cy="676.5" rx="8.8" ry="12.5" fill="url(#g46)"/>
<ellipse cx="168" cy="676.5" rx="8.8" ry="12.5" fill="url(#g39)"/>
<ellipse cx="40" cy="692" rx="7.5" ry="8.1" fill="url(#g2)"/>
<ellipse cx="40" cy="707.5" rx="7.5" ry="6.9" fill="url(#g4)"/>
<ellipse cx="57.4" cy="692" rx="7.5" ry="8.1" fill="url(#g2)"/>
<ellipse cx="57.4" cy="707.5" rx="7.5" ry="6.9" fill="url(#g4)"/>
<ellipse cx="74.9" cy="692" rx="7.5" ry="8.1" fill="url(#g2)"/>
<ellipse cx="74.9" cy="707.5" rx="7.5" ry="6.9" fill="url(#g4)"/>
<ellipse cx="92.3" cy="692" rx="7.5" ry="8.1" fill="url(#g2)"/>
<ellipse cx="92.3" cy="707.5" rx="7.5" ry="6.9" fill="url(#g4)"/>
<ellipse cx="109" cy="692" rx="7.5" ry="8.1" fill="url(#g2)"/>
<ellipse cx="109" cy="707.5" rx="7.5" ry="6.9" fill="url(#g4)"/>
<ellipse cx="126" cy="692" rx="7.5" ry="8.1" fill="url(#g2)"/>
<ellipse cx="126" cy="707.5" rx="7.5" ry="6.9" fill="url(#g4)"/>
<ellipse cx="142.4" cy="692" rx="7.5" ry="8.1" fill="url(#g2)"/>
<ellipse cx="142.4" cy="707.5" rx="7.5" ry="6.9" fill="url(#g4)"/>
<ellipse cx="160" cy="692" rx="7.5" ry="8.1" fill="url(#g2)"/>
<ellipse cx="160" cy="707.5" rx="7.5" ry="6.9" fill="url(#g4)"/>
<ellipse cx="176" cy="692" rx="7.5" ry="8.1" fill="url(#g2)"/>
<ellipse cx="176" cy="707.5" rx="7.5" ry="6.9" fill="url(#g4)"/>
<ellipse cx="31.7" cy="713.5" rx="8.8" ry="8.8" fill="url(#g15)"/>
<ellipse cx="48.7" cy="713.5" rx="8.8" ry="8.8" fill="url(#g21)"/>
<ellipse cx="66.1" cy="713.5" rx="8.8" ry="8.8" fill="url(#g22)"/>
<ellipse cx="83" cy="713.5" rx="8.8" ry="8.8" fill="url(#g22)"/>
<ellipse cx="100.4" cy="713.5" rx="8.8" ry="8.8" fill="url(#g21)"/>
<ellipse cx="117.5" cy="713.5" rx="8.8" ry="8.8" fill="url(#g20)"/>
<ellipse cx="134.9" cy="713.5" rx="8.8" ry="8.8" fill="url(#g22)"/>
<ellipse cx="151.7" cy="713.5" rx="8.8" ry="8.8" fill="url(#g21)"/>
<ellipse cx="168" cy="713.5" rx="8.8" ry="8.8" fill="url(#g22)"/>
<ellipse cx="26.5" cy="748.3" rx="6.2" ry="5.0" fill="url(#g8)"/>
<ellipse cx="40.6" cy="748.3" rx="6.2" ry="5.0" fill="url(#g11)"/>
<ellipse cx="74" cy="748.3" rx="6.2" ry="5.0" fill="url(#g4)"/>
<ellipse cx="92" cy="748.3" rx="6.2" ry="5.0" fill="url(#g4)"/>
<ellipse cx="108.5" cy="748.3" rx="6.2" ry="5.0" fill="url(#g5)"/>
<ellipse cx="125" cy="748.3" rx="6.2" ry="5.0" fill="url(#g4)"/>
<ellipse cx="141.8" cy="748.3" rx="6.2" ry="5.0" fill="url(#g5)"/>
<ellipse cx="162" cy="748.3" rx="6.2" ry="5.0" fill="url(#g4)"/>
</g></g>
<path d="M22.5 605.3H188M22.5 631.8H188M22.5 665.4H188M22.5 698.4H188M22.5 733.5H188M22.5 762.5H188M22.5 605.3V762.5M188 605.3V762.5" stroke="#fff" stroke-width="1.6" stroke-dasharray="5.5 4.5" fill="none" opacity="0.95"/>
<text x="188.5" y="628" text-anchor="end" class="pc">13%</text>
<text x="188.5" y="663.7" text-anchor="end" class="pc">18%</text>
<text x="188.5" y="695" text-anchor="end" class="pc">40%</text>
<text x="188.5" y="729.8" text-anchor="end" class="pc">16%</text>
<text x="188.5" y="758.5" text-anchor="end" class="pc">13%</text>
<clipPath id="cf"><rect x="237.7" y="602.2" width="168.8" height="162.8"/></clipPath>
<g clip-path="url(#cf)"><g filter="url(#jet)">
<rect x="227.7" y="592.2" width="188.8" height="182.8" fill="rgb(5,5,5)"/>
<rect x="242" y="605" width="156" height="50" fill="rgb(89,89,89)" filter="url(#bl3)"/>
<ellipse cx="400" cy="630" rx="8" ry="24" fill="rgb(51,51,51)" filter="url(#bl3)"/>
<ellipse cx="248" cy="608.5" rx="8.8" ry="7.5" fill="url(#g22)"/>
<ellipse cx="265" cy="608.5" rx="8.8" ry="7.5" fill="url(#g25)"/>
<ellipse cx="282" cy="608.5" rx="8.8" ry="7.5" fill="url(#g25)"/>
<ellipse cx="299.3" cy="608.5" rx="8.8" ry="7.5" fill="url(#g25)"/>
<ellipse cx="316.8" cy="608.5" rx="8.8" ry="7.5" fill="url(#g25)"/>
<ellipse cx="334" cy="608.5" rx="8.8" ry="7.5" fill="url(#g25)"/>
<ellipse cx="351.5" cy="608.5" rx="8.8" ry="7.5" fill="url(#g25)"/>
<ellipse cx="369" cy="608.5" rx="8.8" ry="7.5" fill="url(#g24)"/>
<ellipse cx="386.5" cy="608.5" rx="8.8" ry="7.5" fill="url(#g22)"/>
<ellipse cx="254" cy="611" rx="12.5" ry="6.2" fill="url(#g4)" transform="rotate(60 254 611)"/>
<ellipse cx="272" cy="611" rx="12.5" ry="6.2" fill="url(#g4)" transform="rotate(60 272 611)"/>
<ellipse cx="290" cy="611" rx="12.5" ry="6.2" fill="url(#g4)" transform="rotate(60 290 611)"/>
<ellipse cx="307.5" cy="611" rx="12.5" ry="6.2" fill="url(#g4)" transform="rotate(60 307.5 611)"/>
<ellipse cx="324.5" cy="611" rx="12.5" ry="6.2" fill="url(#g4)" transform="rotate(60 324.5 611)"/>
<ellipse cx="342" cy="611" rx="12.5" ry="6.2" fill="url(#g4)" transform="rotate(60 342 611)"/>
<ellipse cx="359.5" cy="611" rx="12.5" ry="6.2" fill="url(#g4)" transform="rotate(60 359.5 611)"/>
<ellipse cx="377" cy="611" rx="12.5" ry="6.2" fill="url(#g4)" transform="rotate(60 377 611)"/>
<ellipse cx="394" cy="611" rx="12.5" ry="6.2" fill="url(#g4)" transform="rotate(60 394 611)"/>
<ellipse cx="248.2" cy="626.5" rx="9.4" ry="8.1" fill="url(#g26)" transform="rotate(55 248.2 626.5)"/>
<ellipse cx="265" cy="626.5" rx="9.4" ry="8.1" fill="url(#g45)" transform="rotate(55 265 626.5)"/>
<ellipse cx="281.8" cy="626.5" rx="9.4" ry="8.1" fill="url(#g46)" transform="rotate(55 281.8 626.5)"/>
<ellipse cx="298.7" cy="626.5" rx="9.4" ry="8.1" fill="url(#g44)" transform="rotate(55 298.7 626.5)"/>
<ellipse cx="316.2" cy="626.5" rx="9.4" ry="8.1" fill="url(#g40)" transform="rotate(55 316.2 626.5)"/>
<ellipse cx="332.5" cy="626.5" rx="9.4" ry="8.1" fill="url(#g40)" transform="rotate(55 332.5 626.5)"/>
<ellipse cx="350" cy="626.5" rx="9.4" ry="8.1" fill="url(#g45)" transform="rotate(55 350 626.5)"/>
<ellipse cx="366.8" cy="626.5" rx="9.4" ry="8.1" fill="url(#g45)" transform="rotate(55 366.8 626.5)"/>
<ellipse cx="383.6" cy="626.5" rx="9.4" ry="8.1" fill="url(#g35)" transform="rotate(55 383.6 626.5)"/>
<ellipse cx="256.3" cy="639" rx="7.5" ry="5.6" fill="url(#g4)" transform="rotate(40 256.3 639)"/>
<ellipse cx="273.8" cy="639" rx="7.5" ry="5.6" fill="url(#g4)" transform="rotate(40 273.8 639)"/>
<ellipse cx="291.2" cy="639" rx="7.5" ry="5.6" fill="url(#g4)" transform="rotate(40 291.2 639)"/>
<ellipse cx="308.7" cy="639" rx="7.5" ry="5.6" fill="url(#g4)" transform="rotate(40 308.7 639)"/>
<ellipse cx="325.5" cy="639" rx="7.5" ry="5.6" fill="url(#g4)" transform="rotate(40 325.5 639)"/>
<ellipse cx="341.2" cy="639" rx="7.5" ry="5.6" fill="url(#g4)" transform="rotate(40 341.2 639)"/>
<ellipse cx="358.7" cy="639" rx="7.5" ry="5.6" fill="url(#g4)" transform="rotate(40 358.7 639)"/>
<ellipse cx="376.1" cy="639" rx="7.5" ry="5.6" fill="url(#g4)" transform="rotate(40 376.1 639)"/>
<ellipse cx="252" cy="649.3" rx="11.2" ry="8.1" fill="url(#g31)"/>
<ellipse cx="266.4" cy="649.3" rx="11.2" ry="8.1" fill="url(#g46)"/>
<ellipse cx="284.4" cy="649.3" rx="11.2" ry="8.1" fill="url(#g48)"/>
<ellipse cx="300.6" cy="649.3" rx="11.2" ry="8.1" fill="url(#g48)"/>
<ellipse cx="317.4" cy="649.3" rx="11.2" ry="8.1" fill="url(#g48)"/>
<ellipse cx="334.3" cy="649.3" rx="11.2" ry="8.1" fill="url(#g46)"/>
<ellipse cx="351.2" cy="649.3" rx="11.2" ry="8.1" fill="url(#g48)"/>
<ellipse cx="368" cy="649.3" rx="11.2" ry="8.1" fill="url(#g46)"/>
<ellipse cx="384.8" cy="649.3" rx="11.2" ry="8.1" fill="url(#g39)"/>
<rect x="238" y="655.5" width="170" height="8" fill="rgb(0,0,0)" filter="url(#bl2)"/>
<ellipse cx="321" cy="674" rx="77" ry="7" fill="rgb(84,84,84)" filter="url(#bl2.5)"/>
<ellipse cx="255" cy="674" rx="8.8" ry="7.5" fill="url(#g21)"/>
<ellipse cx="272" cy="674" rx="8.8" ry="7.5" fill="url(#g22)"/>
<ellipse cx="290" cy="674" rx="8.8" ry="7.5" fill="url(#g23)"/>
<ellipse cx="307" cy="674" rx="8.8" ry="7.5" fill="url(#g22)"/>
<ellipse cx="324" cy="674" rx="8.8" ry="7.5" fill="url(#g22)"/>
<ellipse cx="341" cy="674" rx="8.8" ry="7.5" fill="url(#g23)"/>
<ellipse cx="358" cy="674" rx="8.8" ry="7.5" fill="url(#g22)"/>
<ellipse cx="375" cy="674" rx="8.8" ry="7.5" fill="url(#g21)"/>
<ellipse cx="392" cy="674" rx="8.8" ry="7.5" fill="url(#g20)"/>
<ellipse cx="258" cy="725.2" rx="4.4" ry="3.1" fill="url(#g6)"/>
<ellipse cx="275" cy="725.2" rx="4.4" ry="3.1" fill="url(#g6)"/>
<ellipse cx="290" cy="725.2" rx="4.4" ry="3.1" fill="url(#g6)"/>
<ellipse cx="306" cy="725.2" rx="4.4" ry="3.1" fill="url(#g6)"/>
<ellipse cx="323" cy="725.2" rx="4.4" ry="3.1" fill="url(#g6)"/>
<ellipse cx="341" cy="725.2" rx="4.4" ry="3.1" fill="url(#g6)"/>
<ellipse cx="358" cy="725.2" rx="4.4" ry="3.1" fill="url(#g6)"/>
<ellipse cx="321" cy="745.7" rx="80" ry="6" fill="rgb(66,66,66)" filter="url(#bl2.5)"/>
<ellipse cx="252" cy="745.7" rx="10.0" ry="7.5" fill="url(#g16)"/>
<ellipse cx="280" cy="745.7" rx="10.0" ry="7.5" fill="url(#g15)"/>
<ellipse cx="310" cy="745.7" rx="10.0" ry="7.5" fill="url(#g15)"/>
<ellipse cx="340" cy="745.7" rx="10.0" ry="7.5" fill="url(#g15)"/>
<ellipse cx="368" cy="745.7" rx="10.0" ry="7.5" fill="url(#g15)"/>
<ellipse cx="392" cy="745.7" rx="10.0" ry="7.5" fill="url(#g15)"/>
<ellipse cx="392" cy="698.3" rx="7.5" ry="6.2" fill="url(#g13)"/>
</g></g>
<path d="M240.8 606.5H406.5M240.8 631.2H406.5M240.8 665.4H406.5M240.8 698.9H406.5M240.8 733.4H406.5M240.8 762.5H406.5M240.8 606.5V762.5M406.5 606.5V762.5" stroke="#fff" stroke-width="1.6" stroke-dasharray="5.5 4.5" fill="none" opacity="0.95"/>
<text x="407.5" y="629.3" text-anchor="end" class="pc">21%</text>
<text x="407.5" y="662" text-anchor="end" class="pc">37%</text>
<text x="407.5" y="695.7" text-anchor="end" class="pc">23%</text>
<text x="407.5" y="730" text-anchor="end" class="pc">10%</text>
<text x="407.5" y="758.3" text-anchor="end" class="pc">9%</text>
<clipPath id="cg"><rect x="457" y="600.6" width="170.6" height="163.8"/></clipPath>
<g clip-path="url(#cg)"><g filter="url(#jet)">
<rect x="447" y="590.6" width="190.6" height="183.8" fill="rgb(5,5,5)"/>
<rect x="461" y="603" width="164" height="30" fill="rgb(97,97,97)" filter="url(#bl3)"/>
<ellipse cx="467.7" cy="608.4" rx="10.0" ry="8.8" fill="url(#g22)" transform="rotate(50 467.7 608.4)"/>
<ellipse cx="484.8" cy="608.4" rx="10.0" ry="8.8" fill="url(#g39)" transform="rotate(50 484.8 608.4)"/>
<ellipse cx="501.9" cy="608.4" rx="10.0" ry="8.8" fill="url(#g46)" transform="rotate(50 501.9 608.4)"/>
<ellipse cx="519.0" cy="608.4" rx="10.0" ry="8.8" fill="url(#g46)" transform="rotate(50 519.0 608.4)"/>
<ellipse cx="536.1" cy="608.4" rx="10.0" ry="8.8" fill="url(#g46)" transform="rotate(50 536.1 608.4)"/>
<ellipse cx="553.2" cy="608.4" rx="10.0" ry="8.8" fill="url(#g46)" transform="rotate(50 553.2 608.4)"/>
<ellipse cx="570.3" cy="608.4" rx="10.0" ry="8.8" fill="url(#g48)" transform="rotate(50 570.3 608.4)"/>
<ellipse cx="587.4" cy="608.4" rx="10.0" ry="8.8" fill="url(#g39)" transform="rotate(50 587.4 608.4)"/>
<ellipse cx="604.5" cy="608.4" rx="10.0" ry="8.8" fill="url(#g32)" transform="rotate(50 604.5 608.4)"/>
<ellipse cx="464.7" cy="617.7" rx="7.5" ry="5.0" fill="url(#g2)" transform="rotate(35 464.7 617.7)"/>
<ellipse cx="478.4" cy="617.7" rx="7.5" ry="5.0" fill="url(#g8)" transform="rotate(35 478.4 617.7)"/>
<ellipse cx="494.7" cy="617.7" rx="7.5" ry="5.0" fill="url(#g4)" transform="rotate(35 494.7 617.7)"/>
<ellipse cx="512.1" cy="617.7" rx="7.5" ry="5.0" fill="url(#g7)" transform="rotate(35 512.1 617.7)"/>
<ellipse cx="528.3" cy="617.7" rx="7.5" ry="5.0" fill="url(#g8)" transform="rotate(35 528.3 617.7)"/>
<ellipse cx="545" cy="617.7" rx="7.5" ry="5.0" fill="url(#g7)" transform="rotate(35 545 617.7)"/>
<ellipse cx="562" cy="617.7" rx="7.5" ry="5.0" fill="url(#g7)" transform="rotate(35 562 617.7)"/>
<ellipse cx="579" cy="617.7" rx="7.5" ry="5.0" fill="url(#g8)" transform="rotate(35 579 617.7)"/>
<ellipse cx="596" cy="617.7" rx="7.5" ry="5.0" fill="url(#g7)" transform="rotate(35 596 617.7)"/>
<ellipse cx="613" cy="617.7" rx="7.5" ry="5.0" fill="url(#g10)" transform="rotate(35 613 617.7)"/>
<ellipse cx="467.7" cy="627" rx="9.4" ry="8.1" fill="url(#g24)" transform="rotate(40 467.7 627)"/>
<ellipse cx="484.8" cy="627" rx="9.4" ry="8.1" fill="url(#g41)" transform="rotate(40 484.8 627)"/>
<ellipse cx="501.9" cy="627" rx="9.4" ry="8.1" fill="url(#g47)" transform="rotate(40 501.9 627)"/>
<ellipse cx="519.0" cy="627" rx="9.4" ry="8.1" fill="url(#g47)" transform="rotate(40 519.0 627)"/>
<ellipse cx="536.1" cy="627" rx="9.4" ry="8.1" fill="url(#g45)" transform="rotate(40 536.1 627)"/>
<ellipse cx="553.2" cy="627" rx="9.4" ry="8.1" fill="url(#g45)" transform="rotate(40 553.2 627)"/>
<ellipse cx="570.3" cy="627" rx="9.4" ry="8.1" fill="url(#g45)" transform="rotate(40 570.3 627)"/>
<ellipse cx="587.4" cy="627" rx="9.4" ry="8.1" fill="url(#g39)" transform="rotate(40 587.4 627)"/>
<ellipse cx="604.5" cy="627" rx="9.4" ry="8.1" fill="url(#g26)" transform="rotate(40 604.5 627)"/>
<rect x="457" y="633.5" width="172" height="7" fill="rgb(0,0,0)" filter="url(#bl2)"/>
<ellipse cx="543" cy="649" rx="80" ry="6.5" fill="rgb(92,92,92)" filter="url(#bl2.5)"/>
<ellipse cx="471" cy="650" rx="8.1" ry="6.9" fill="url(#g21)"/>
<ellipse cx="484.8" cy="650" rx="8.1" ry="6.9" fill="url(#g30)"/>
<ellipse cx="501.9" cy="650" rx="8.1" ry="6.9" fill="url(#g30)"/>
<ellipse cx="519.0" cy="650" rx="8.1" ry="6.9" fill="url(#g31)"/>
<ellipse cx="536.1" cy="650" rx="8.1" ry="6.9" fill="url(#g33)"/>
<ellipse cx="553.2" cy="650" rx="8.1" ry="6.9" fill="url(#g30)"/>
<ellipse cx="570.3" cy="650" rx="8.1" ry="6.9" fill="url(#g30)"/>
<ellipse cx="587.4" cy="650" rx="8.1" ry="6.9" fill="url(#g29)"/>
<ellipse cx="604.5" cy="650" rx="8.1" ry="6.9" fill="url(#g28)"/>
<ellipse cx="484.8" cy="644.5" rx="5.0" ry="6.2" fill="url(#g25)"/>
<ellipse cx="501.9" cy="644.5" rx="5.0" ry="6.2" fill="url(#g25)"/>
<ellipse cx="519.0" cy="644.5" rx="5.0" ry="6.2" fill="url(#g26)"/>
<ellipse cx="536.1" cy="644.5" rx="5.0" ry="6.2" fill="url(#g28)"/>
<ellipse cx="553.2" cy="644.5" rx="5.0" ry="6.2" fill="url(#g25)"/>
<ellipse cx="570.3" cy="644.5" rx="5.0" ry="6.2" fill="url(#g25)"/>
<ellipse cx="587.4" cy="644.5" rx="5.0" ry="6.2" fill="url(#g24)"/>
<ellipse cx="604.5" cy="644.5" rx="5.0" ry="6.2" fill="url(#g23)"/>
<ellipse cx="545" cy="674.4" rx="74" ry="3.5" fill="rgb(56,56,56)" filter="url(#bl2)"/>
<ellipse cx="476" cy="674.4" rx="8.8" ry="6.2" fill="url(#g17)"/>
<ellipse cx="496.7" cy="674.4" rx="8.8" ry="6.2" fill="url(#g14)"/>
<ellipse cx="520" cy="674.4" rx="8.8" ry="6.2" fill="url(#g13)"/>
<ellipse cx="545" cy="674.4" rx="8.8" ry="6.2" fill="url(#g15)"/>
<ellipse cx="570" cy="674.4" rx="8.8" ry="6.2" fill="url(#g13)"/>
<ellipse cx="601.7" cy="674.4" rx="8.8" ry="6.2" fill="url(#g22)"/>
<ellipse cx="614.5" cy="674.4" rx="8.8" ry="6.2" fill="url(#g18)"/>
<ellipse cx="614" cy="686" rx="3" ry="10" fill="rgb(51,51,51)" filter="url(#bl2)"/>
<ellipse cx="545" cy="698.3" rx="72" ry="3" fill="rgb(41,41,41)" filter="url(#bl2)"/>
<ellipse cx="612" cy="699.5" rx="7.5" ry="6.2" fill="url(#g15)"/>
<ellipse cx="541" cy="747" rx="82" ry="6" fill="rgb(69,69,69)" filter="url(#bl2.5)"/>
<ellipse cx="471.6" cy="747" rx="10.0" ry="7.5" fill="url(#g19)"/>
<ellipse cx="500" cy="747" rx="10.0" ry="7.5" fill="url(#g15)"/>
<ellipse cx="527.4" cy="747" rx="10.0" ry="7.5" fill="url(#g16)"/>
<ellipse cx="555.6" cy="747" rx="10.0" ry="7.5" fill="url(#g16)"/>
<ellipse cx="585" cy="747" rx="10.0" ry="7.5" fill="url(#g15)"/>
<ellipse cx="612" cy="747" rx="10.0" ry="7.5" fill="url(#g15)"/>
</g></g>
<path d="M460.3 604.3H624.7M460.3 632.2H624.7M460.3 659.1H624.7M460.3 694.9H624.7M460.3 728.6H624.7M460.3 760.6H624.7M460.3 604.3V760.6M624.7 604.3V760.6" stroke="#fff" stroke-width="1.6" stroke-dasharray="5.5 4.5" fill="none" opacity="0.95"/>
<text x="627.0" y="628.8" text-anchor="end" class="pc">46%</text>
<text x="627.0" y="655.4" text-anchor="end" class="pc">20%</text>
<text x="627.0" y="690.2" text-anchor="end" class="pc">14%</text>
<text x="627.0" y="726" text-anchor="end" class="pc">10%</text>
<text x="627.0" y="756.5" text-anchor="end" class="pc">10%</text>
<text x="63.1" y="302.7" class="chn" fill="#f8bc1a">Channel A</text>
<text x="381" y="304.5" class="chn" fill="#14a8e8">Channel B</text>
<text x="268.3" y="564.2" class="chn" fill="#14a8e8">Channel B</text>
<text x="4.8" y="328.8" class="lab">(b)</text>
<text x="216.8" y="328.8" class="lab">(c)</text>
<text x="432" y="328.8" class="lab">(d)</text>
<text x="4.8" y="586.5" class="lab">(e)</text>
<text x="216.8" y="586.5" class="lab">(f)</text>
<text x="433" y="587" class="lab">(g)</text>
<text x="101.2" y="329" class="lm2" fill="#f5b020">λ<tspan class="sub2" dy="4.5">0</tspan></text>
<text x="314" y="331" class="lm2" fill="#16a6e6">λ<tspan class="sub2" dy="4.5">1</tspan></text>
<text x="531" y="331" class="lm2" fill="#16a6e6">λ<tspan class="sub2" dy="4.5">2</tspan></text>
<text x="95" y="584.5" class="lm2" fill="#16a6e6">λ<tspan class="sub2" dy="4.5">3</tspan></text>
<text x="305" y="584.5" class="lm2" fill="#16a6e6">λ<tspan class="sub2" dy="4.5">4</tspan></text>
<text x="525" y="585" class="lm2" fill="#16a6e6">λ<tspan class="sub2" dy="4.5">5</tspan></text>
<linearGradient id="cbg" x1="0" y1="1" x2="0" y2="0">
<stop offset="0.0000" stop-color="rgb(0,0,127)"/>
<stop offset="0.0625" stop-color="rgb(0,0,199)"/>
<stop offset="0.1250" stop-color="rgb(0,0,255)"/>
<stop offset="0.1875" stop-color="rgb(0,63,255)"/>
<stop offset="0.2500" stop-color="rgb(0,127,255)"/>
<stop offset="0.3125" stop-color="rgb(0,191,255)"/>
<stop offset="0.3750" stop-color="rgb(20,255,226)"/>
<stop offset="0.4375" stop-color="rgb(71,255,174)"/>
<stop offset="0.5000" stop-color="rgb(123,255,123)"/>
<stop offset="0.5625" stop-color="rgb(174,255,71)"/>
<stop offset="0.6250" stop-color="rgb(226,255,20)"/>
<stop offset="0.6875" stop-color="rgb(255,210,0)"/>
<stop offset="0.7500" stop-color="rgb(255,151,0)"/>
<stop offset="0.8125" stop-color="rgb(255,92,0)"/>
<stop offset="0.8750" stop-color="rgb(255,33,0)"/>
<stop offset="0.9375" stop-color="rgb(199,0,0)"/>
<stop offset="1.0000" stop-color="rgb(127,0,0)"/>
</linearGradient>
<rect x="673.9" y="442.8" width="23.2" height="247" fill="url(#cbg)"/>
<text x="709.5" y="448.4" class="cb">1</text>
<text x="709.4" y="695.5" class="cb">0</text>
</svg></body></html>
